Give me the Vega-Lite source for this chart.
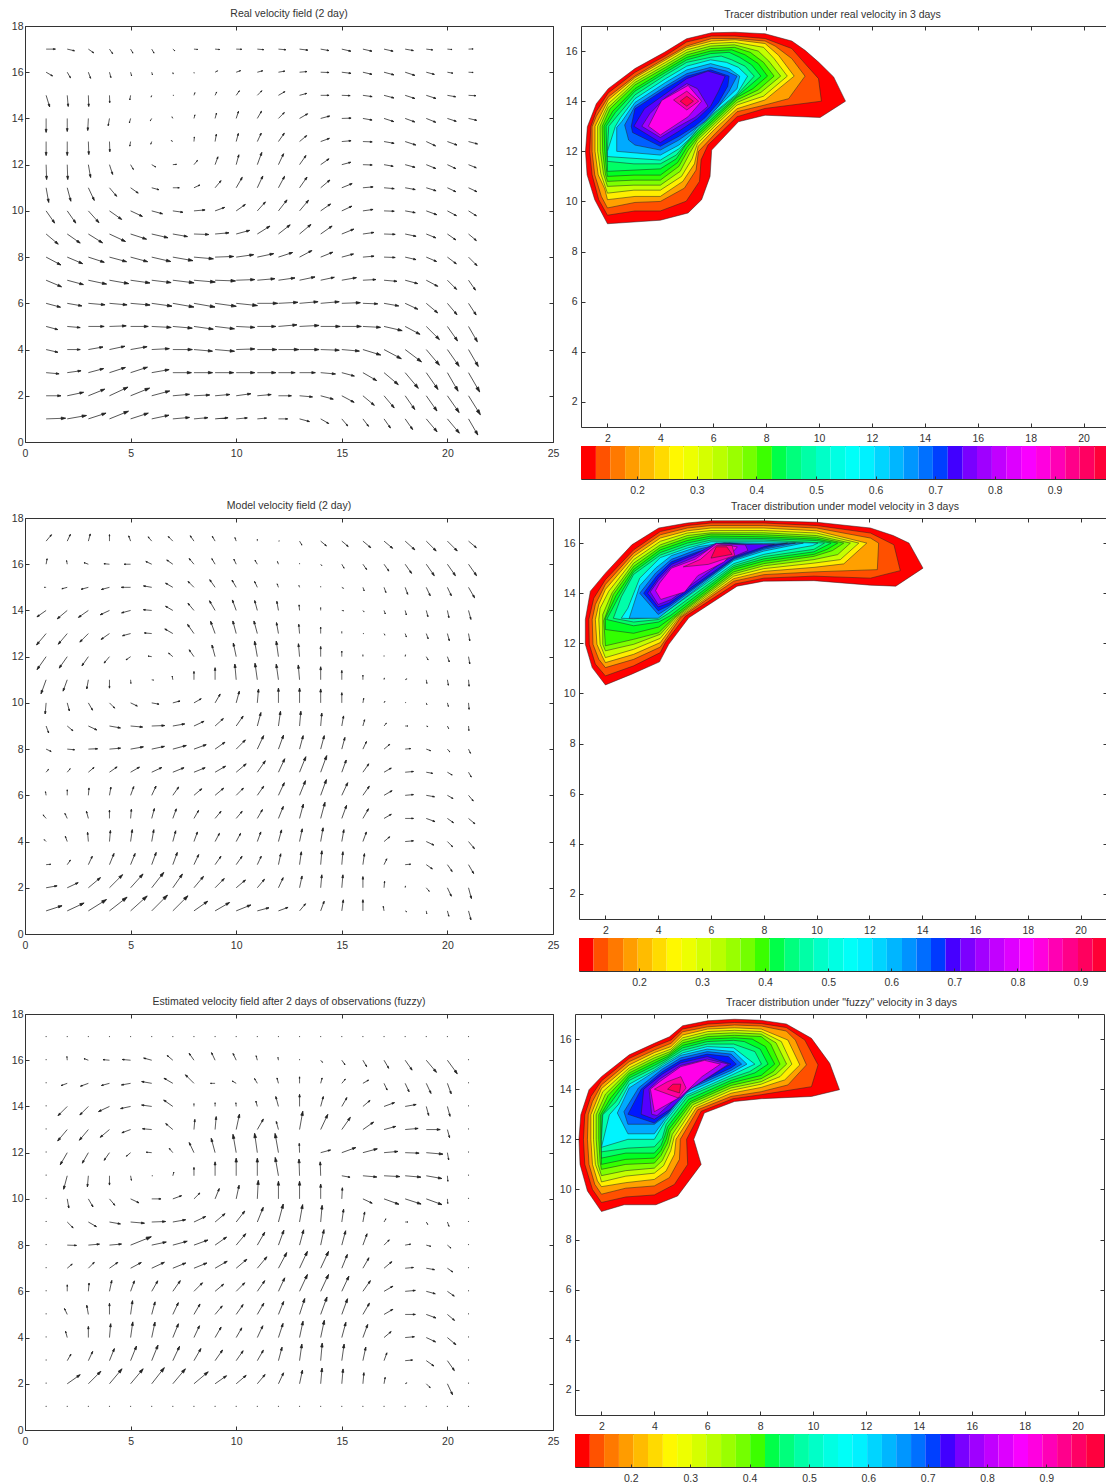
{
"$schema":"https://vega.github.io/schema/vega-lite/v6.json",
"padding":{"left":0,"top":8,"right":0,"bottom":0},
"background":"white",
"config":{"view":{"stroke":"#333","strokeWidth":1},"font":"Liberation Sans","title":{"font":"Liberation Sans","fontSize":10.5,"fontWeight":"normal","color":"#333","offset":5},"axis":{"labelFont":"Liberation Sans","labelFontSize":10.5,"labelColor":"#333","tickColor":"#333","tickSize":-4,"grid":false,"domain":false,"title":null,"labelOverlap":false,"labelFlush":false},"axisX":{"labelPadding":10},"axisY":{"labelPadding":8}},
"datasets":{
"fa":[
{"x":1,"y":17,"a":90,"l":10},{"x":2,"y":17,"a":103,"l":8},{"x":3,"y":17,"a":125,"l":7},{"x":4,"y":17,"a":145,"l":6},{"x":5,"y":17,"a":150,"l":5},{"x":6,"y":17,"a":150,"l":5},{"x":7,"y":17,"a":130,"l":3},{"x":8,"y":17,"a":95,"l":4},{"x":9,"y":17,"a":95,"l":5},{"x":10,"y":17,"a":92,"l":6},{"x":11,"y":17,"a":95,"l":7},{"x":12,"y":17,"a":95,"l":8},{"x":13,"y":17,"a":97,"l":9},{"x":14,"y":17,"a":100,"l":9},{"x":15,"y":17,"a":103,"l":10},{"x":16,"y":17,"a":103,"l":10},{"x":17,"y":17,"a":103,"l":10},{"x":18,"y":17,"a":100,"l":9},{"x":19,"y":17,"a":97,"l":7},{"x":20,"y":17,"a":95,"l":5},{"x":21,"y":17,"a":88,"l":5},
{"x":1,"y":16,"a":120,"l":8},{"x":2,"y":16,"a":150,"l":7},{"x":3,"y":16,"a":160,"l":7},{"x":4,"y":16,"a":165,"l":6},{"x":5,"y":16,"a":165,"l":4},{"x":6,"y":16,"a":165,"l":3},{"x":7,"y":16,"a":170,"l":2},{"x":8,"y":16,"a":170,"l":1},{"x":9,"y":16,"a":60,"l":3},{"x":10,"y":16,"a":70,"l":5},{"x":11,"y":16,"a":75,"l":6},{"x":12,"y":16,"a":80,"l":7},{"x":13,"y":16,"a":85,"l":8},{"x":14,"y":16,"a":92,"l":9},{"x":15,"y":16,"a":97,"l":10},{"x":16,"y":16,"a":103,"l":10},{"x":17,"y":16,"a":105,"l":11},{"x":18,"y":16,"a":108,"l":11},{"x":19,"y":16,"a":105,"l":9},{"x":20,"y":16,"a":100,"l":6},{"x":21,"y":16,"a":93,"l":5},
{"x":1,"y":15,"a":163,"l":13},{"x":2,"y":15,"a":175,"l":12},{"x":3,"y":15,"a":178,"l":12},{"x":4,"y":15,"a":178,"l":8},{"x":5,"y":15,"a":190,"l":5},{"x":6,"y":15,"a":200,"l":2},{"x":7,"y":15,"a":90,"l":1},{"x":8,"y":15,"a":20,"l":3},{"x":9,"y":15,"a":25,"l":4},{"x":10,"y":15,"a":35,"l":6},{"x":11,"y":15,"a":45,"l":7},{"x":12,"y":15,"a":60,"l":8},{"x":13,"y":15,"a":75,"l":8},{"x":14,"y":15,"a":90,"l":9},{"x":15,"y":15,"a":92,"l":9},{"x":16,"y":15,"a":98,"l":10},{"x":17,"y":15,"a":105,"l":11},{"x":18,"y":15,"a":108,"l":11},{"x":19,"y":15,"a":108,"l":11},{"x":20,"y":15,"a":100,"l":9},{"x":21,"y":15,"a":93,"l":8},
{"x":1,"y":14,"a":180,"l":15},{"x":2,"y":14,"a":180,"l":14},{"x":3,"y":14,"a":183,"l":13},{"x":4,"y":14,"a":190,"l":8},{"x":5,"y":14,"a":195,"l":5},{"x":6,"y":14,"a":210,"l":3},{"x":7,"y":14,"a":330,"l":2},{"x":8,"y":14,"a":15,"l":4},{"x":9,"y":14,"a":15,"l":6},{"x":10,"y":14,"a":18,"l":8},{"x":11,"y":14,"a":30,"l":9},{"x":12,"y":14,"a":45,"l":9},{"x":13,"y":14,"a":60,"l":10},{"x":14,"y":14,"a":75,"l":10},{"x":15,"y":14,"a":88,"l":10},{"x":16,"y":14,"a":100,"l":10},{"x":17,"y":14,"a":108,"l":11},{"x":18,"y":14,"a":110,"l":11},{"x":19,"y":14,"a":112,"l":11},{"x":20,"y":14,"a":108,"l":10},{"x":21,"y":14,"a":103,"l":9},
{"x":1,"y":13,"a":180,"l":15},{"x":2,"y":13,"a":180,"l":15},{"x":3,"y":13,"a":178,"l":14},{"x":4,"y":13,"a":178,"l":11},{"x":5,"y":13,"a":190,"l":5},{"x":6,"y":13,"a":200,"l":3},{"x":7,"y":13,"a":300,"l":2},{"x":8,"y":13,"a":5,"l":5},{"x":9,"y":13,"a":10,"l":8},{"x":10,"y":13,"a":15,"l":9},{"x":11,"y":13,"a":25,"l":10},{"x":12,"y":13,"a":35,"l":11},{"x":13,"y":13,"a":50,"l":10},{"x":14,"y":13,"a":70,"l":10},{"x":15,"y":13,"a":85,"l":10},{"x":16,"y":13,"a":92,"l":10},{"x":17,"y":13,"a":100,"l":11},{"x":18,"y":13,"a":108,"l":12},{"x":19,"y":13,"a":115,"l":11},{"x":20,"y":13,"a":110,"l":11},{"x":21,"y":13,"a":105,"l":10},
{"x":1,"y":12,"a":178,"l":16},{"x":2,"y":12,"a":178,"l":16},{"x":3,"y":12,"a":170,"l":14},{"x":4,"y":12,"a":162,"l":11},{"x":5,"y":12,"a":150,"l":6},{"x":6,"y":12,"a":120,"l":5},{"x":7,"y":12,"a":85,"l":4},{"x":8,"y":12,"a":40,"l":6},{"x":9,"y":12,"a":20,"l":9},{"x":10,"y":12,"a":15,"l":11},{"x":11,"y":12,"a":20,"l":14},{"x":12,"y":12,"a":25,"l":13},{"x":13,"y":12,"a":35,"l":12},{"x":14,"y":12,"a":55,"l":11},{"x":15,"y":12,"a":75,"l":10},{"x":16,"y":12,"a":92,"l":10},{"x":17,"y":12,"a":100,"l":10},{"x":18,"y":12,"a":105,"l":11},{"x":19,"y":12,"a":112,"l":11},{"x":20,"y":12,"a":115,"l":10},{"x":21,"y":12,"a":112,"l":9},
{"x":1,"y":11,"a":170,"l":16},{"x":2,"y":11,"a":165,"l":15},{"x":3,"y":11,"a":155,"l":15},{"x":4,"y":11,"a":140,"l":12},{"x":5,"y":11,"a":125,"l":10},{"x":6,"y":11,"a":105,"l":8},{"x":7,"y":11,"a":90,"l":7},{"x":8,"y":11,"a":65,"l":7},{"x":9,"y":11,"a":40,"l":10},{"x":10,"y":11,"a":30,"l":13},{"x":11,"y":11,"a":25,"l":14},{"x":12,"y":11,"a":28,"l":14},{"x":13,"y":11,"a":35,"l":14},{"x":14,"y":11,"a":50,"l":13},{"x":15,"y":11,"a":68,"l":12},{"x":16,"y":11,"a":85,"l":11},{"x":17,"y":11,"a":95,"l":11},{"x":18,"y":11,"a":100,"l":11},{"x":19,"y":11,"a":107,"l":11},{"x":20,"y":11,"a":115,"l":10},{"x":21,"y":11,"a":115,"l":10},
{"x":1,"y":10,"a":145,"l":16},{"x":2,"y":10,"a":145,"l":16},{"x":3,"y":10,"a":138,"l":17},{"x":4,"y":10,"a":125,"l":16},{"x":5,"y":10,"a":115,"l":14},{"x":6,"y":10,"a":105,"l":12},{"x":7,"y":10,"a":98,"l":11},{"x":8,"y":10,"a":85,"l":12},{"x":9,"y":10,"a":70,"l":11},{"x":10,"y":10,"a":55,"l":12},{"x":11,"y":10,"a":42,"l":13},{"x":12,"y":10,"a":38,"l":15},{"x":13,"y":10,"a":40,"l":15},{"x":14,"y":10,"a":55,"l":13},{"x":15,"y":10,"a":65,"l":12},{"x":16,"y":10,"a":82,"l":11},{"x":17,"y":10,"a":92,"l":11},{"x":18,"y":10,"a":100,"l":11},{"x":19,"y":10,"a":110,"l":12},{"x":20,"y":10,"a":118,"l":11},{"x":21,"y":10,"a":122,"l":10},
{"x":1,"y":9,"a":130,"l":17},{"x":2,"y":9,"a":125,"l":17},{"x":3,"y":9,"a":122,"l":18},{"x":4,"y":9,"a":115,"l":19},{"x":5,"y":9,"a":108,"l":18},{"x":6,"y":9,"a":103,"l":18},{"x":7,"y":9,"a":100,"l":16},{"x":8,"y":9,"a":92,"l":16},{"x":9,"y":9,"a":85,"l":15},{"x":10,"y":9,"a":75,"l":15},{"x":11,"y":9,"a":58,"l":16},{"x":12,"y":9,"a":52,"l":16},{"x":13,"y":9,"a":50,"l":16},{"x":14,"y":9,"a":55,"l":15},{"x":15,"y":9,"a":68,"l":14},{"x":16,"y":9,"a":82,"l":12},{"x":17,"y":9,"a":92,"l":12},{"x":18,"y":9,"a":102,"l":12},{"x":19,"y":9,"a":112,"l":11},{"x":20,"y":9,"a":125,"l":11},{"x":21,"y":9,"a":130,"l":11},
{"x":1,"y":8,"a":118,"l":18},{"x":2,"y":8,"a":113,"l":18},{"x":3,"y":8,"a":108,"l":18},{"x":4,"y":8,"a":105,"l":19},{"x":5,"y":8,"a":105,"l":19},{"x":6,"y":8,"a":103,"l":21},{"x":7,"y":8,"a":100,"l":22},{"x":8,"y":8,"a":95,"l":21},{"x":9,"y":8,"a":88,"l":20},{"x":10,"y":8,"a":82,"l":19},{"x":11,"y":8,"a":78,"l":18},{"x":12,"y":8,"a":72,"l":16},{"x":13,"y":8,"a":62,"l":15},{"x":14,"y":8,"a":68,"l":14},{"x":15,"y":8,"a":75,"l":13},{"x":16,"y":8,"a":85,"l":12},{"x":17,"y":8,"a":92,"l":12},{"x":18,"y":8,"a":103,"l":12},{"x":19,"y":8,"a":113,"l":12},{"x":20,"y":8,"a":127,"l":12},{"x":21,"y":8,"a":135,"l":13},
{"x":1,"y":7,"a":113,"l":18},{"x":2,"y":7,"a":105,"l":18},{"x":3,"y":7,"a":102,"l":20},{"x":4,"y":7,"a":100,"l":21},{"x":5,"y":7,"a":98,"l":21},{"x":6,"y":7,"a":97,"l":21},{"x":7,"y":7,"a":97,"l":23},{"x":8,"y":7,"a":95,"l":23},{"x":9,"y":7,"a":92,"l":22},{"x":10,"y":7,"a":88,"l":20},{"x":11,"y":7,"a":85,"l":19},{"x":12,"y":7,"a":82,"l":18},{"x":13,"y":7,"a":78,"l":17},{"x":14,"y":7,"a":78,"l":15},{"x":15,"y":7,"a":80,"l":16},{"x":16,"y":7,"a":87,"l":14},{"x":17,"y":7,"a":95,"l":14},{"x":18,"y":7,"a":105,"l":14},{"x":19,"y":7,"a":118,"l":14},{"x":20,"y":7,"a":135,"l":14},{"x":21,"y":7,"a":145,"l":13},
{"x":1,"y":6,"a":105,"l":16},{"x":2,"y":6,"a":100,"l":16},{"x":3,"y":6,"a":95,"l":18},{"x":4,"y":6,"a":95,"l":19},{"x":5,"y":6,"a":95,"l":21},{"x":6,"y":6,"a":98,"l":22},{"x":7,"y":6,"a":100,"l":23},{"x":8,"y":6,"a":100,"l":23},{"x":9,"y":6,"a":98,"l":23},{"x":10,"y":6,"a":96,"l":23},{"x":11,"y":6,"a":90,"l":22},{"x":12,"y":6,"a":87,"l":21},{"x":13,"y":6,"a":85,"l":20},{"x":14,"y":6,"a":85,"l":20},{"x":15,"y":6,"a":88,"l":20},{"x":16,"y":6,"a":92,"l":16},{"x":17,"y":6,"a":100,"l":16},{"x":18,"y":6,"a":115,"l":15},{"x":19,"y":6,"a":130,"l":16},{"x":20,"y":6,"a":140,"l":16},{"x":21,"y":6,"a":147,"l":15},
{"x":1,"y":5,"a":105,"l":13},{"x":2,"y":5,"a":95,"l":14},{"x":3,"y":5,"a":90,"l":17},{"x":4,"y":5,"a":88,"l":18},{"x":5,"y":5,"a":90,"l":19},{"x":6,"y":5,"a":93,"l":21},{"x":7,"y":5,"a":95,"l":21},{"x":8,"y":5,"a":98,"l":21},{"x":9,"y":5,"a":97,"l":21},{"x":10,"y":5,"a":93,"l":20},{"x":11,"y":5,"a":90,"l":20},{"x":12,"y":5,"a":85,"l":20},{"x":13,"y":5,"a":87,"l":21},{"x":14,"y":5,"a":90,"l":21},{"x":15,"y":5,"a":90,"l":21},{"x":16,"y":5,"a":93,"l":19},{"x":17,"y":5,"a":103,"l":20},{"x":18,"y":5,"a":118,"l":18},{"x":19,"y":5,"a":135,"l":20},{"x":20,"y":5,"a":145,"l":19},{"x":21,"y":5,"a":150,"l":19},
{"x":1,"y":4,"a":103,"l":13},{"x":2,"y":4,"a":90,"l":14},{"x":3,"y":4,"a":80,"l":16},{"x":4,"y":4,"a":78,"l":17},{"x":5,"y":4,"a":80,"l":18},{"x":6,"y":4,"a":87,"l":19},{"x":7,"y":4,"a":90,"l":21},{"x":8,"y":4,"a":95,"l":20},{"x":9,"y":4,"a":95,"l":21},{"x":10,"y":4,"a":88,"l":20},{"x":11,"y":4,"a":90,"l":21},{"x":12,"y":4,"a":90,"l":22},{"x":13,"y":4,"a":90,"l":21},{"x":14,"y":4,"a":92,"l":20},{"x":15,"y":4,"a":95,"l":19},{"x":16,"y":4,"a":107,"l":20},{"x":17,"y":4,"a":118,"l":21},{"x":18,"y":4,"a":127,"l":22},{"x":19,"y":4,"a":140,"l":22},{"x":20,"y":4,"a":145,"l":22},{"x":21,"y":4,"a":150,"l":21},
{"x":1,"y":3,"a":95,"l":14},{"x":2,"y":3,"a":82,"l":15},{"x":3,"y":3,"a":75,"l":17},{"x":4,"y":3,"a":72,"l":18},{"x":5,"y":3,"a":72,"l":19},{"x":6,"y":3,"a":80,"l":19},{"x":7,"y":3,"a":90,"l":20},{"x":8,"y":3,"a":90,"l":20},{"x":9,"y":3,"a":90,"l":20},{"x":10,"y":3,"a":90,"l":20},{"x":11,"y":3,"a":90,"l":20},{"x":12,"y":3,"a":90,"l":18},{"x":13,"y":3,"a":90,"l":17},{"x":14,"y":3,"a":95,"l":16},{"x":15,"y":3,"a":105,"l":14},{"x":16,"y":3,"a":120,"l":17},{"x":17,"y":3,"a":130,"l":20},{"x":18,"y":3,"a":140,"l":22},{"x":19,"y":3,"a":145,"l":22},{"x":20,"y":3,"a":150,"l":23},{"x":21,"y":3,"a":150,"l":24},
{"x":1,"y":2,"a":90,"l":16},{"x":2,"y":2,"a":78,"l":18},{"x":3,"y":2,"a":68,"l":19},{"x":4,"y":2,"a":65,"l":22},{"x":5,"y":2,"a":68,"l":22},{"x":6,"y":2,"a":75,"l":20},{"x":7,"y":2,"a":85,"l":18},{"x":8,"y":2,"a":87,"l":17},{"x":9,"y":2,"a":85,"l":16},{"x":10,"y":2,"a":82,"l":16},{"x":11,"y":2,"a":85,"l":15},{"x":12,"y":2,"a":90,"l":14},{"x":13,"y":2,"a":95,"l":14},{"x":14,"y":2,"a":105,"l":14},{"x":15,"y":2,"a":118,"l":15},{"x":16,"y":2,"a":130,"l":16},{"x":17,"y":2,"a":140,"l":17},{"x":18,"y":2,"a":145,"l":18},{"x":19,"y":2,"a":145,"l":20},{"x":20,"y":2,"a":145,"l":22},{"x":21,"y":2,"a":148,"l":24},
{"x":1,"y":1,"a":88,"l":21},{"x":2,"y":1,"a":80,"l":21},{"x":3,"y":1,"a":72,"l":20},{"x":4,"y":1,"a":68,"l":22},{"x":5,"y":1,"a":72,"l":20},{"x":6,"y":1,"a":78,"l":19},{"x":7,"y":1,"a":85,"l":18},{"x":8,"y":1,"a":85,"l":15},{"x":9,"y":1,"a":85,"l":14},{"x":10,"y":1,"a":85,"l":12},{"x":11,"y":1,"a":85,"l":10},{"x":12,"y":1,"a":90,"l":10},{"x":13,"y":1,"a":105,"l":11},{"x":14,"y":1,"a":120,"l":10},{"x":15,"y":1,"a":140,"l":10},{"x":16,"y":1,"a":143,"l":10},{"x":17,"y":1,"a":145,"l":12},{"x":18,"y":1,"a":145,"l":14},{"x":19,"y":1,"a":140,"l":18},{"x":20,"y":1,"a":140,"l":20},{"x":21,"y":1,"a":150,"l":20}
],
"fb":[
{"x":1,"y":17,"a":40,"l":9},{"x":2,"y":17,"a":25,"l":8},{"x":3,"y":17,"a":15,"l":8},{"x":4,"y":17,"a":0,"l":7},{"x":5,"y":17,"a":340,"l":6},{"x":6,"y":17,"a":320,"l":6},{"x":7,"y":17,"a":315,"l":7},{"x":8,"y":17,"a":325,"l":7},{"x":9,"y":17,"a":330,"l":6},{"x":10,"y":17,"a":340,"l":4},{"x":11,"y":17,"a":0,"l":2},{"x":12,"y":17,"a":80,"l":1},{"x":13,"y":17,"a":150,"l":5},{"x":14,"y":17,"a":130,"l":8},{"x":15,"y":17,"a":130,"l":9},{"x":16,"y":17,"a":130,"l":11},{"x":17,"y":17,"a":130,"l":12},{"x":18,"y":17,"a":132,"l":14},{"x":19,"y":17,"a":135,"l":15},{"x":20,"y":17,"a":135,"l":15},{"x":21,"y":17,"a":130,"l":11},
{"x":1,"y":16,"a":10,"l":6},{"x":2,"y":16,"a":350,"l":4},{"x":3,"y":16,"a":290,"l":5},{"x":4,"y":16,"a":275,"l":6},{"x":5,"y":16,"a":270,"l":7},{"x":6,"y":16,"a":295,"l":7},{"x":7,"y":16,"a":305,"l":8},{"x":8,"y":16,"a":320,"l":8},{"x":9,"y":16,"a":330,"l":7},{"x":10,"y":16,"a":335,"l":6},{"x":11,"y":16,"a":330,"l":5},{"x":12,"y":16,"a":340,"l":3},{"x":13,"y":16,"a":0,"l":1},{"x":14,"y":16,"a":140,"l":2},{"x":15,"y":16,"a":150,"l":5},{"x":16,"y":16,"a":145,"l":7},{"x":17,"y":16,"a":145,"l":9},{"x":18,"y":16,"a":145,"l":12},{"x":19,"y":16,"a":145,"l":15},{"x":20,"y":16,"a":145,"l":15},{"x":21,"y":16,"a":145,"l":15},
{"x":1,"y":15,"a":270,"l":2},{"x":2,"y":15,"a":255,"l":6},{"x":3,"y":15,"a":255,"l":8},{"x":4,"y":15,"a":255,"l":9},{"x":5,"y":15,"a":270,"l":10},{"x":6,"y":15,"a":280,"l":9},{"x":7,"y":15,"a":300,"l":9},{"x":8,"y":15,"a":315,"l":9},{"x":9,"y":15,"a":325,"l":10},{"x":10,"y":15,"a":330,"l":9},{"x":11,"y":15,"a":335,"l":7},{"x":12,"y":15,"a":340,"l":4},{"x":13,"y":15,"a":340,"l":2},{"x":14,"y":15,"a":0,"l":1},{"x":15,"y":15,"a":120,"l":2},{"x":16,"y":15,"a":160,"l":4},{"x":17,"y":15,"a":160,"l":6},{"x":18,"y":15,"a":160,"l":8},{"x":19,"y":15,"a":155,"l":10},{"x":20,"y":15,"a":155,"l":10},{"x":21,"y":15,"a":150,"l":13},
{"x":1,"y":14,"a":235,"l":12},{"x":2,"y":14,"a":230,"l":14},{"x":3,"y":14,"a":235,"l":13},{"x":4,"y":14,"a":245,"l":11},{"x":5,"y":14,"a":255,"l":10},{"x":6,"y":14,"a":275,"l":9},{"x":7,"y":14,"a":300,"l":9},{"x":8,"y":14,"a":320,"l":10},{"x":9,"y":14,"a":330,"l":12},{"x":10,"y":14,"a":340,"l":12},{"x":11,"y":14,"a":345,"l":11},{"x":12,"y":14,"a":350,"l":10},{"x":13,"y":14,"a":355,"l":6},{"x":14,"y":14,"a":0,"l":3},{"x":15,"y":14,"a":100,"l":2},{"x":16,"y":14,"a":140,"l":2},{"x":17,"y":14,"a":160,"l":4},{"x":18,"y":14,"a":165,"l":5},{"x":19,"y":14,"a":165,"l":7},{"x":20,"y":14,"a":168,"l":8},{"x":21,"y":14,"a":165,"l":10},
{"x":1,"y":13,"a":220,"l":16},{"x":2,"y":13,"a":220,"l":15},{"x":3,"y":13,"a":225,"l":13},{"x":4,"y":13,"a":235,"l":11},{"x":5,"y":13,"a":255,"l":9},{"x":6,"y":13,"a":275,"l":8},{"x":7,"y":13,"a":300,"l":10},{"x":8,"y":13,"a":325,"l":12},{"x":9,"y":13,"a":340,"l":14},{"x":10,"y":13,"a":345,"l":14},{"x":11,"y":13,"a":345,"l":14},{"x":12,"y":13,"a":350,"l":12},{"x":13,"y":13,"a":355,"l":10},{"x":14,"y":13,"a":0,"l":7},{"x":15,"y":13,"a":0,"l":2},{"x":16,"y":13,"a":90,"l":1},{"x":17,"y":13,"a":150,"l":2},{"x":18,"y":13,"a":160,"l":4},{"x":19,"y":13,"a":160,"l":6},{"x":20,"y":13,"a":165,"l":8},{"x":21,"y":13,"a":170,"l":8},
{"x":1,"y":12,"a":215,"l":17},{"x":2,"y":12,"a":215,"l":15},{"x":3,"y":12,"a":215,"l":12},{"x":4,"y":12,"a":220,"l":9},{"x":5,"y":12,"a":235,"l":6},{"x":6,"y":12,"a":280,"l":4},{"x":7,"y":12,"a":310,"l":6},{"x":8,"y":12,"a":325,"l":9},{"x":9,"y":12,"a":345,"l":13},{"x":10,"y":12,"a":348,"l":15},{"x":11,"y":12,"a":350,"l":17},{"x":12,"y":12,"a":352,"l":17},{"x":13,"y":12,"a":355,"l":14},{"x":14,"y":12,"a":0,"l":11},{"x":15,"y":12,"a":0,"l":6},{"x":16,"y":12,"a":0,"l":2},{"x":17,"y":12,"a":0,"l":1},{"x":18,"y":12,"a":10,"l":2},{"x":19,"y":12,"a":150,"l":4},{"x":20,"y":12,"a":160,"l":6},{"x":21,"y":12,"a":170,"l":8},
{"x":1,"y":11,"a":200,"l":16},{"x":2,"y":11,"a":200,"l":13},{"x":3,"y":11,"a":190,"l":10},{"x":4,"y":11,"a":180,"l":9},{"x":5,"y":11,"a":175,"l":4},{"x":6,"y":11,"a":100,"l":2},{"x":7,"y":11,"a":350,"l":4},{"x":8,"y":11,"a":0,"l":9},{"x":9,"y":11,"a":0,"l":13},{"x":10,"y":11,"a":355,"l":17},{"x":11,"y":11,"a":352,"l":18},{"x":12,"y":11,"a":352,"l":17},{"x":13,"y":11,"a":355,"l":16},{"x":14,"y":11,"a":0,"l":14},{"x":15,"y":11,"a":0,"l":10},{"x":16,"y":11,"a":0,"l":5},{"x":17,"y":11,"a":10,"l":2},{"x":18,"y":11,"a":60,"l":2},{"x":19,"y":11,"a":170,"l":4},{"x":20,"y":11,"a":170,"l":6},{"x":21,"y":11,"a":175,"l":7},
{"x":1,"y":10,"a":185,"l":12},{"x":2,"y":10,"a":165,"l":9},{"x":3,"y":10,"a":150,"l":9},{"x":4,"y":10,"a":135,"l":8},{"x":5,"y":10,"a":115,"l":8},{"x":6,"y":10,"a":100,"l":8},{"x":7,"y":10,"a":75,"l":8},{"x":8,"y":10,"a":60,"l":9},{"x":9,"y":10,"a":30,"l":11},{"x":10,"y":10,"a":15,"l":13},{"x":11,"y":10,"a":5,"l":15},{"x":12,"y":10,"a":0,"l":16},{"x":13,"y":10,"a":0,"l":16},{"x":14,"y":10,"a":0,"l":15},{"x":15,"y":10,"a":0,"l":11},{"x":16,"y":10,"a":10,"l":5},{"x":17,"y":10,"a":30,"l":2},{"x":18,"y":10,"a":50,"l":1},{"x":19,"y":10,"a":160,"l":2},{"x":20,"y":10,"a":165,"l":4},{"x":21,"y":10,"a":175,"l":7},
{"x":1,"y":9,"a":160,"l":8},{"x":2,"y":9,"a":130,"l":8},{"x":3,"y":9,"a":115,"l":10},{"x":4,"y":9,"a":100,"l":12},{"x":5,"y":9,"a":95,"l":13},{"x":6,"y":9,"a":88,"l":14},{"x":7,"y":9,"a":80,"l":13},{"x":8,"y":9,"a":65,"l":12},{"x":9,"y":9,"a":48,"l":12},{"x":10,"y":9,"a":35,"l":13},{"x":11,"y":9,"a":15,"l":15},{"x":12,"y":9,"a":8,"l":16},{"x":13,"y":9,"a":5,"l":16},{"x":14,"y":9,"a":5,"l":14},{"x":15,"y":9,"a":10,"l":11},{"x":16,"y":9,"a":15,"l":7},{"x":17,"y":9,"a":40,"l":4},{"x":18,"y":9,"a":90,"l":3},{"x":19,"y":9,"a":110,"l":2},{"x":20,"y":9,"a":155,"l":3},{"x":21,"y":9,"a":175,"l":5},
{"x":1,"y":8,"a":115,"l":6},{"x":2,"y":8,"a":95,"l":8},{"x":3,"y":8,"a":88,"l":10},{"x":4,"y":8,"a":85,"l":12},{"x":5,"y":8,"a":80,"l":14},{"x":6,"y":8,"a":78,"l":14},{"x":7,"y":8,"a":75,"l":15},{"x":8,"y":8,"a":70,"l":14},{"x":9,"y":8,"a":55,"l":13},{"x":10,"y":8,"a":45,"l":14},{"x":11,"y":8,"a":25,"l":16},{"x":12,"y":8,"a":20,"l":16},{"x":13,"y":8,"a":15,"l":15},{"x":14,"y":8,"a":15,"l":15},{"x":15,"y":8,"a":15,"l":13},{"x":16,"y":8,"a":25,"l":9},{"x":17,"y":8,"a":50,"l":8},{"x":18,"y":8,"a":85,"l":6},{"x":19,"y":8,"a":110,"l":5},{"x":20,"y":8,"a":140,"l":4},{"x":21,"y":8,"a":155,"l":5},
{"x":1,"y":7,"a":40,"l":4},{"x":2,"y":7,"a":40,"l":5},{"x":3,"y":7,"a":50,"l":8},{"x":4,"y":7,"a":55,"l":10},{"x":5,"y":7,"a":60,"l":11},{"x":6,"y":7,"a":65,"l":12},{"x":7,"y":7,"a":68,"l":13},{"x":8,"y":7,"a":68,"l":13},{"x":9,"y":7,"a":60,"l":13},{"x":10,"y":7,"a":50,"l":14},{"x":11,"y":7,"a":35,"l":15},{"x":12,"y":7,"a":25,"l":16},{"x":13,"y":7,"a":22,"l":18},{"x":14,"y":7,"a":20,"l":19},{"x":15,"y":7,"a":20,"l":14},{"x":16,"y":7,"a":35,"l":11},{"x":17,"y":7,"a":60,"l":9},{"x":18,"y":7,"a":85,"l":9},{"x":19,"y":7,"a":100,"l":7},{"x":20,"y":7,"a":120,"l":6},{"x":21,"y":7,"a":150,"l":6},
{"x":1,"y":6,"a":350,"l":4},{"x":2,"y":6,"a":0,"l":6},{"x":3,"y":6,"a":5,"l":8},{"x":4,"y":6,"a":10,"l":9},{"x":5,"y":6,"a":20,"l":10},{"x":6,"y":6,"a":25,"l":11},{"x":7,"y":6,"a":35,"l":11},{"x":8,"y":6,"a":50,"l":11},{"x":9,"y":6,"a":50,"l":12},{"x":10,"y":6,"a":45,"l":11},{"x":11,"y":6,"a":35,"l":12},{"x":12,"y":6,"a":25,"l":15},{"x":13,"y":6,"a":22,"l":17},{"x":14,"y":6,"a":20,"l":18},{"x":15,"y":6,"a":25,"l":15},{"x":16,"y":6,"a":35,"l":12},{"x":17,"y":6,"a":60,"l":10},{"x":18,"y":6,"a":85,"l":9},{"x":19,"y":6,"a":100,"l":9},{"x":20,"y":6,"a":120,"l":7},{"x":21,"y":6,"a":140,"l":8},
{"x":1,"y":5,"a":320,"l":5},{"x":2,"y":5,"a":335,"l":6},{"x":3,"y":5,"a":345,"l":8},{"x":4,"y":5,"a":0,"l":9},{"x":5,"y":5,"a":5,"l":10},{"x":6,"y":5,"a":15,"l":11},{"x":7,"y":5,"a":20,"l":11},{"x":8,"y":5,"a":30,"l":10},{"x":9,"y":5,"a":40,"l":10},{"x":10,"y":5,"a":40,"l":10},{"x":11,"y":5,"a":30,"l":11},{"x":12,"y":5,"a":22,"l":14},{"x":13,"y":5,"a":15,"l":16},{"x":14,"y":5,"a":15,"l":18},{"x":15,"y":5,"a":20,"l":15},{"x":16,"y":5,"a":30,"l":12},{"x":17,"y":5,"a":60,"l":9},{"x":18,"y":5,"a":90,"l":9},{"x":19,"y":5,"a":110,"l":10},{"x":20,"y":5,"a":125,"l":8},{"x":21,"y":5,"a":130,"l":9},
{"x":1,"y":4,"a":315,"l":3},{"x":2,"y":4,"a":340,"l":6},{"x":3,"y":4,"a":355,"l":10},{"x":4,"y":4,"a":5,"l":12},{"x":5,"y":4,"a":8,"l":13},{"x":6,"y":4,"a":10,"l":13},{"x":7,"y":4,"a":15,"l":12},{"x":8,"y":4,"a":20,"l":11},{"x":9,"y":4,"a":28,"l":10},{"x":10,"y":4,"a":28,"l":10},{"x":11,"y":4,"a":20,"l":11},{"x":12,"y":4,"a":15,"l":13},{"x":13,"y":4,"a":12,"l":14},{"x":14,"y":4,"a":10,"l":15},{"x":15,"y":4,"a":10,"l":13},{"x":16,"y":4,"a":20,"l":11},{"x":17,"y":4,"a":50,"l":8},{"x":18,"y":4,"a":85,"l":9},{"x":19,"y":4,"a":115,"l":9},{"x":20,"y":4,"a":135,"l":8},{"x":21,"y":4,"a":140,"l":10},
{"x":1,"y":3,"a":85,"l":5},{"x":2,"y":3,"a":35,"l":6},{"x":3,"y":3,"a":25,"l":10},{"x":4,"y":3,"a":22,"l":13},{"x":5,"y":3,"a":22,"l":13},{"x":6,"y":3,"a":20,"l":14},{"x":7,"y":3,"a":20,"l":14},{"x":8,"y":3,"a":25,"l":12},{"x":9,"y":3,"a":35,"l":11},{"x":10,"y":3,"a":35,"l":11},{"x":11,"y":3,"a":25,"l":10},{"x":12,"y":3,"a":12,"l":12},{"x":13,"y":3,"a":8,"l":14},{"x":14,"y":3,"a":5,"l":15},{"x":15,"y":3,"a":5,"l":14},{"x":16,"y":3,"a":8,"l":12},{"x":17,"y":3,"a":25,"l":7},{"x":18,"y":3,"a":85,"l":6},{"x":19,"y":3,"a":125,"l":8},{"x":20,"y":3,"a":145,"l":9},{"x":21,"y":3,"a":150,"l":11},
{"x":1,"y":2,"a":80,"l":12},{"x":2,"y":2,"a":65,"l":13},{"x":3,"y":2,"a":50,"l":17},{"x":4,"y":2,"a":45,"l":20},{"x":5,"y":2,"a":42,"l":20},{"x":6,"y":2,"a":38,"l":21},{"x":7,"y":2,"a":35,"l":18},{"x":8,"y":2,"a":40,"l":16},{"x":9,"y":2,"a":45,"l":14},{"x":10,"y":2,"a":50,"l":13},{"x":11,"y":2,"a":40,"l":12},{"x":12,"y":2,"a":25,"l":12},{"x":13,"y":2,"a":12,"l":13},{"x":14,"y":2,"a":5,"l":14},{"x":15,"y":2,"a":5,"l":14},{"x":16,"y":2,"a":0,"l":12},{"x":17,"y":2,"a":5,"l":7},{"x":18,"y":2,"a":10,"l":2},{"x":19,"y":2,"a":140,"l":5},{"x":20,"y":2,"a":155,"l":10},{"x":21,"y":2,"a":165,"l":12},
{"x":1,"y":1,"a":72,"l":18},{"x":2,"y":1,"a":65,"l":20},{"x":3,"y":1,"a":58,"l":23},{"x":4,"y":1,"a":52,"l":24},{"x":5,"y":1,"a":48,"l":24},{"x":6,"y":1,"a":45,"l":24},{"x":7,"y":1,"a":45,"l":23},{"x":8,"y":1,"a":55,"l":18},{"x":9,"y":1,"a":60,"l":18},{"x":10,"y":1,"a":68,"l":17},{"x":11,"y":1,"a":75,"l":13},{"x":12,"y":1,"a":70,"l":11},{"x":13,"y":1,"a":40,"l":10},{"x":14,"y":1,"a":20,"l":11},{"x":15,"y":1,"a":8,"l":12},{"x":16,"y":1,"a":0,"l":12},{"x":17,"y":1,"a":350,"l":5},{"x":18,"y":1,"a":120,"l":2},{"x":19,"y":1,"a":170,"l":3},{"x":20,"y":1,"a":165,"l":6},{"x":21,"y":1,"a":165,"l":10}
],
"fc":[
{"x":2,"y":16,"a":355,"l":4},{"x":3,"y":16,"a":290,"l":5},{"x":4,"y":16,"a":275,"l":7},{"x":5,"y":16,"a":275,"l":9},{"x":6,"y":16,"a":285,"l":9},{"x":7,"y":16,"a":310,"l":8},{"x":8,"y":16,"a":325,"l":9},{"x":9,"y":16,"a":335,"l":9},{"x":10,"y":16,"a":335,"l":8},{"x":11,"y":16,"a":345,"l":5},{"x":12,"y":16,"a":350,"l":3},{"x":13,"y":16,"a":0,"l":1},{"x":14,"y":16,"a":140,"l":3},{"x":15,"y":16,"a":145,"l":6},{"x":16,"y":16,"a":150,"l":8},{"x":17,"y":16,"a":150,"l":10},{"x":18,"y":16,"a":145,"l":13},{"x":19,"y":16,"a":140,"l":17},{"x":20,"y":16,"a":144,"l":18},
{"x":2,"y":15,"a":250,"l":7},{"x":3,"y":15,"a":250,"l":9},{"x":4,"y":15,"a":255,"l":9},{"x":5,"y":15,"a":260,"l":10},{"x":6,"y":15,"a":280,"l":11},{"x":7,"y":15,"a":300,"l":11},{"x":8,"y":15,"a":315,"l":13},{"x":9,"y":15,"a":270,"l":5},{"x":10,"y":15,"a":300,"l":5},{"x":11,"y":15,"a":330,"l":6},{"x":12,"y":15,"a":345,"l":6},{"x":13,"y":15,"a":0,"l":7},{"x":14,"y":15,"a":15,"l":6},{"x":15,"y":15,"a":40,"l":6},{"x":16,"y":15,"a":60,"l":7},{"x":17,"y":15,"a":155,"l":8},{"x":18,"y":15,"a":155,"l":10},{"x":19,"y":15,"a":155,"l":12},{"x":20,"y":15,"a":160,"l":12},
{"x":2,"y":14,"a":225,"l":14},{"x":3,"y":14,"a":225,"l":13},{"x":4,"y":14,"a":245,"l":13},{"x":5,"y":14,"a":258,"l":11},{"x":6,"y":14,"a":278,"l":11},{"x":7,"y":14,"a":305,"l":12},{"x":8,"y":14,"a":0,"l":3},{"x":9,"y":14,"a":0,"l":4},{"x":10,"y":14,"a":355,"l":4},{"x":11,"y":14,"a":345,"l":6},{"x":12,"y":14,"a":345,"l":11},{"x":13,"y":14,"a":0,"l":13},{"x":14,"y":14,"a":15,"l":11},{"x":15,"y":14,"a":30,"l":11},{"x":16,"y":14,"a":50,"l":10},{"x":17,"y":14,"a":70,"l":12},{"x":18,"y":14,"a":80,"l":12},{"x":19,"y":14,"a":165,"l":10},{"x":20,"y":14,"a":165,"l":11},
{"x":2,"y":13,"a":220,"l":16},{"x":3,"y":13,"a":220,"l":15},{"x":4,"y":13,"a":230,"l":13},{"x":5,"y":13,"a":250,"l":10},{"x":6,"y":13,"a":275,"l":10},{"x":7,"y":13,"a":310,"l":10},{"x":8,"y":13,"a":5,"l":11},{"x":9,"y":13,"a":5,"l":14},{"x":10,"y":13,"a":12,"l":17},{"x":11,"y":13,"a":30,"l":13},{"x":12,"y":13,"a":345,"l":9},{"x":13,"y":13,"a":10,"l":20},{"x":14,"y":13,"a":25,"l":18},{"x":15,"y":13,"a":35,"l":16},{"x":16,"y":13,"a":55,"l":14},{"x":17,"y":13,"a":75,"l":13},{"x":18,"y":13,"a":85,"l":14},{"x":19,"y":13,"a":90,"l":15},{"x":20,"y":13,"a":165,"l":9},
{"x":2,"y":12,"a":210,"l":15},{"x":3,"y":12,"a":210,"l":13},{"x":4,"y":12,"a":215,"l":10},{"x":5,"y":12,"a":230,"l":6},{"x":6,"y":12,"a":275,"l":6},{"x":7,"y":12,"a":320,"l":6},{"x":8,"y":12,"a":335,"l":12},{"x":9,"y":12,"a":345,"l":16},{"x":10,"y":12,"a":350,"l":20},{"x":11,"y":12,"a":352,"l":21},{"x":12,"y":12,"a":350,"l":21},{"x":13,"y":12,"a":358,"l":10},{"x":14,"y":12,"a":75,"l":11},{"x":15,"y":12,"a":70,"l":16},{"x":16,"y":12,"a":75,"l":16},{"x":17,"y":12,"a":85,"l":15},{"x":18,"y":12,"a":92,"l":15},{"x":19,"y":12,"a":95,"l":18},{"x":20,"y":12,"a":170,"l":8},
{"x":2,"y":11,"a":195,"l":15},{"x":3,"y":11,"a":185,"l":12},{"x":4,"y":11,"a":180,"l":10},{"x":5,"y":11,"a":170,"l":5},{"x":6,"y":11,"a":90,"l":1},{"x":7,"y":11,"a":15,"l":4},{"x":8,"y":11,"a":0,"l":9},{"x":9,"y":11,"a":0,"l":15},{"x":10,"y":11,"a":0,"l":19},{"x":11,"y":11,"a":0,"l":19},{"x":12,"y":11,"a":350,"l":20},{"x":13,"y":11,"a":358,"l":18},{"x":14,"y":11,"a":358,"l":15},{"x":15,"y":11,"a":100,"l":9},{"x":16,"y":11,"a":95,"l":15},{"x":17,"y":11,"a":93,"l":17},{"x":18,"y":11,"a":95,"l":17},{"x":19,"y":11,"a":100,"l":17},{"x":20,"y":11,"a":175,"l":6},
{"x":2,"y":10,"a":170,"l":10},{"x":3,"y":10,"a":150,"l":10},{"x":4,"y":10,"a":140,"l":9},{"x":5,"y":10,"a":115,"l":10},{"x":6,"y":10,"a":90,"l":10},{"x":7,"y":10,"a":70,"l":10},{"x":8,"y":10,"a":45,"l":9},{"x":9,"y":10,"a":22,"l":12},{"x":10,"y":10,"a":12,"l":15},{"x":11,"y":10,"a":3,"l":20},{"x":12,"y":10,"a":0,"l":19},{"x":13,"y":10,"a":0,"l":19},{"x":14,"y":10,"a":0,"l":16},{"x":15,"y":10,"a":3,"l":12},{"x":16,"y":10,"a":115,"l":11},{"x":17,"y":10,"a":110,"l":17},{"x":18,"y":10,"a":108,"l":18},{"x":19,"y":10,"a":110,"l":18},{"x":20,"y":10,"a":175,"l":5},
{"x":2,"y":9,"a":135,"l":9},{"x":3,"y":9,"a":120,"l":10},{"x":4,"y":9,"a":100,"l":12},{"x":5,"y":9,"a":95,"l":15},{"x":6,"y":9,"a":88,"l":15},{"x":7,"y":9,"a":80,"l":14},{"x":8,"y":9,"a":65,"l":14},{"x":9,"y":9,"a":50,"l":14},{"x":10,"y":9,"a":38,"l":15},{"x":11,"y":9,"a":22,"l":17},{"x":12,"y":9,"a":15,"l":20},{"x":13,"y":9,"a":10,"l":19},{"x":14,"y":9,"a":5,"l":18},{"x":15,"y":9,"a":8,"l":14},{"x":16,"y":9,"a":10,"l":11},{"x":17,"y":9,"a":30,"l":4},{"x":18,"y":9,"a":90,"l":3},{"x":19,"y":9,"a":150,"l":3},{"x":20,"y":9,"a":160,"l":5},
{"x":2,"y":8,"a":92,"l":10},{"x":3,"y":8,"a":85,"l":12},{"x":4,"y":8,"a":85,"l":13},{"x":5,"y":8,"a":68,"l":24},{"x":6,"y":8,"a":78,"l":16},{"x":7,"y":8,"a":75,"l":16},{"x":8,"y":8,"a":70,"l":16},{"x":9,"y":8,"a":55,"l":15},{"x":10,"y":8,"a":40,"l":16},{"x":11,"y":8,"a":30,"l":16},{"x":12,"y":8,"a":20,"l":17},{"x":13,"y":8,"a":15,"l":17},{"x":14,"y":8,"a":12,"l":17},{"x":15,"y":8,"a":15,"l":16},{"x":16,"y":8,"a":20,"l":13},{"x":17,"y":8,"a":45,"l":8},{"x":18,"y":8,"a":80,"l":6},{"x":19,"y":8,"a":105,"l":5},{"x":20,"y":8,"a":130,"l":5},
{"x":2,"y":7,"a":50,"l":7},{"x":3,"y":7,"a":45,"l":9},{"x":4,"y":7,"a":55,"l":11},{"x":5,"y":7,"a":62,"l":13},{"x":6,"y":7,"a":65,"l":15},{"x":7,"y":7,"a":68,"l":15},{"x":8,"y":7,"a":68,"l":15},{"x":9,"y":7,"a":60,"l":15},{"x":10,"y":7,"a":50,"l":15},{"x":11,"y":7,"a":40,"l":16},{"x":12,"y":7,"a":28,"l":19},{"x":13,"y":7,"a":25,"l":20},{"x":14,"y":7,"a":25,"l":20},{"x":15,"y":7,"a":22,"l":16},{"x":16,"y":7,"a":30,"l":13},{"x":17,"y":7,"a":50,"l":11},{"x":18,"y":7,"a":85,"l":9},{"x":19,"y":7,"a":100,"l":9},{"x":20,"y":7,"a":125,"l":7},
{"x":2,"y":6,"a":0,"l":7},{"x":3,"y":6,"a":5,"l":9},{"x":4,"y":6,"a":12,"l":12},{"x":5,"y":6,"a":20,"l":12},{"x":6,"y":6,"a":30,"l":13},{"x":7,"y":6,"a":35,"l":14},{"x":8,"y":6,"a":45,"l":13},{"x":9,"y":6,"a":50,"l":12},{"x":10,"y":6,"a":45,"l":13},{"x":11,"y":6,"a":35,"l":14},{"x":12,"y":6,"a":25,"l":16},{"x":13,"y":6,"a":25,"l":20},{"x":14,"y":6,"a":25,"l":20},{"x":15,"y":6,"a":25,"l":18},{"x":16,"y":6,"a":35,"l":14},{"x":17,"y":6,"a":60,"l":11},{"x":18,"y":6,"a":85,"l":11},{"x":19,"y":6,"a":105,"l":10},{"x":20,"y":6,"a":125,"l":9},
{"x":2,"y":5,"a":335,"l":7},{"x":3,"y":5,"a":350,"l":10},{"x":4,"y":5,"a":0,"l":12},{"x":5,"y":5,"a":8,"l":15},{"x":6,"y":5,"a":15,"l":14},{"x":7,"y":5,"a":25,"l":14},{"x":8,"y":5,"a":30,"l":13},{"x":9,"y":5,"a":40,"l":12},{"x":10,"y":5,"a":35,"l":13},{"x":11,"y":5,"a":30,"l":14},{"x":12,"y":5,"a":22,"l":15},{"x":13,"y":5,"a":18,"l":18},{"x":14,"y":5,"a":20,"l":20},{"x":15,"y":5,"a":20,"l":18},{"x":16,"y":5,"a":30,"l":14},{"x":17,"y":5,"a":60,"l":11},{"x":18,"y":5,"a":90,"l":11},{"x":19,"y":5,"a":110,"l":11},{"x":20,"y":5,"a":130,"l":10},
{"x":2,"y":4,"a":345,"l":7},{"x":3,"y":4,"a":0,"l":12},{"x":4,"y":4,"a":5,"l":15},{"x":5,"y":4,"a":8,"l":17},{"x":6,"y":4,"a":12,"l":17},{"x":7,"y":4,"a":22,"l":16},{"x":8,"y":4,"a":25,"l":14},{"x":9,"y":4,"a":30,"l":13},{"x":10,"y":4,"a":30,"l":12},{"x":11,"y":4,"a":25,"l":14},{"x":12,"y":4,"a":18,"l":16},{"x":13,"y":4,"a":12,"l":18},{"x":14,"y":4,"a":12,"l":19},{"x":15,"y":4,"a":15,"l":17},{"x":16,"y":4,"a":20,"l":15},{"x":17,"y":4,"a":50,"l":10},{"x":18,"y":4,"a":85,"l":10},{"x":19,"y":4,"a":115,"l":11},{"x":20,"y":4,"a":130,"l":12},
{"x":2,"y":3,"a":30,"l":8},{"x":3,"y":3,"a":25,"l":11},{"x":4,"y":3,"a":22,"l":14},{"x":5,"y":3,"a":22,"l":17},{"x":6,"y":3,"a":22,"l":18},{"x":7,"y":3,"a":25,"l":17},{"x":8,"y":3,"a":30,"l":15},{"x":9,"y":3,"a":35,"l":14},{"x":10,"y":3,"a":35,"l":13},{"x":11,"y":3,"a":30,"l":13},{"x":12,"y":3,"a":15,"l":15},{"x":13,"y":3,"a":8,"l":18},{"x":14,"y":3,"a":5,"l":19},{"x":15,"y":3,"a":8,"l":18},{"x":16,"y":3,"a":12,"l":15},{"x":17,"y":3,"a":20,"l":9},{"x":18,"y":3,"a":85,"l":8},{"x":19,"y":3,"a":125,"l":10},{"x":20,"y":3,"a":145,"l":13},
{"x":2,"y":2,"a":55,"l":17},{"x":3,"y":2,"a":45,"l":19},{"x":4,"y":2,"a":40,"l":21},{"x":5,"y":2,"a":40,"l":21},{"x":6,"y":2,"a":38,"l":22},{"x":7,"y":2,"a":40,"l":21},{"x":8,"y":2,"a":50,"l":20},{"x":9,"y":2,"a":55,"l":15},{"x":10,"y":2,"a":50,"l":14},{"x":11,"y":2,"a":40,"l":13},{"x":12,"y":2,"a":25,"l":13},{"x":13,"y":2,"a":12,"l":15},{"x":14,"y":2,"a":5,"l":17},{"x":15,"y":2,"a":5,"l":16},{"x":16,"y":2,"a":5,"l":12},{"x":17,"y":2,"a":10,"l":7},{"x":18,"y":2,"a":60,"l":2},{"x":19,"y":2,"a":135,"l":6},{"x":20,"y":2,"a":155,"l":13},
{"x":1,"y":17,"a":0,"l":1},{"x":2,"y":17,"a":0,"l":1},{"x":3,"y":17,"a":0,"l":1},{"x":4,"y":17,"a":0,"l":1},{"x":5,"y":17,"a":0,"l":1},{"x":6,"y":17,"a":0,"l":1},{"x":7,"y":17,"a":0,"l":1},{"x":8,"y":17,"a":0,"l":1},{"x":9,"y":17,"a":0,"l":1},{"x":10,"y":17,"a":0,"l":1},{"x":11,"y":17,"a":0,"l":1},{"x":12,"y":17,"a":0,"l":1},{"x":13,"y":17,"a":0,"l":1},{"x":14,"y":17,"a":0,"l":1},{"x":15,"y":17,"a":0,"l":1},{"x":16,"y":17,"a":0,"l":1},{"x":17,"y":17,"a":0,"l":1},{"x":18,"y":17,"a":0,"l":1},{"x":19,"y":17,"a":0,"l":1},{"x":20,"y":17,"a":0,"l":1},{"x":21,"y":17,"a":0,"l":1},
{"x":1,"y":1,"a":0,"l":1},{"x":2,"y":1,"a":0,"l":1},{"x":3,"y":1,"a":0,"l":1},{"x":4,"y":1,"a":0,"l":1},{"x":5,"y":1,"a":0,"l":1},{"x":6,"y":1,"a":0,"l":1},{"x":7,"y":1,"a":0,"l":1},{"x":8,"y":1,"a":0,"l":1},{"x":9,"y":1,"a":0,"l":1},{"x":10,"y":1,"a":0,"l":1},{"x":11,"y":1,"a":0,"l":1},{"x":12,"y":1,"a":0,"l":1},{"x":13,"y":1,"a":0,"l":1},{"x":14,"y":1,"a":0,"l":1},{"x":15,"y":1,"a":0,"l":1},{"x":16,"y":1,"a":0,"l":1},{"x":17,"y":1,"a":0,"l":1},{"x":18,"y":1,"a":0,"l":1},{"x":19,"y":1,"a":0,"l":1},{"x":20,"y":1,"a":0,"l":1},{"x":21,"y":1,"a":0,"l":1},
{"x":1,"y":2,"a":0,"l":1},{"x":1,"y":3,"a":0,"l":1},{"x":1,"y":4,"a":0,"l":1},{"x":1,"y":5,"a":0,"l":1},{"x":1,"y":6,"a":0,"l":1},{"x":1,"y":7,"a":0,"l":1},{"x":1,"y":8,"a":0,"l":1},{"x":1,"y":9,"a":0,"l":1},{"x":1,"y":10,"a":0,"l":1},{"x":1,"y":11,"a":0,"l":1},{"x":1,"y":12,"a":0,"l":1},{"x":1,"y":13,"a":0,"l":1},{"x":1,"y":14,"a":0,"l":1},{"x":1,"y":15,"a":0,"l":1},{"x":1,"y":16,"a":0,"l":1},
{"x":21,"y":2,"a":0,"l":1},{"x":21,"y":3,"a":0,"l":1},{"x":21,"y":4,"a":0,"l":1},{"x":21,"y":5,"a":0,"l":1},{"x":21,"y":6,"a":0,"l":1},{"x":21,"y":7,"a":0,"l":1},{"x":21,"y":8,"a":0,"l":1},{"x":21,"y":9,"a":0,"l":1},{"x":21,"y":10,"a":0,"l":1},{"x":21,"y":11,"a":0,"l":1},{"x":21,"y":12,"a":0,"l":1},{"x":21,"y":13,"a":0,"l":1},{"x":21,"y":14,"a":0,"l":1},{"x":21,"y":15,"a":0,"l":1},{"x":21,"y":16,"a":0,"l":1}
],
"pa":[
{"k":0,"x":2,"y":9.11},{"k":0,"x":4,"y":9.25},{"k":0,"x":5.05,"y":9.54},{"k":0,"x":5.56,"y":10.07},{"k":0,"x":5.88,"y":11},{"k":0,"x":5.94,"y":12.05},{"k":0,"x":6.95,"y":13.18},{"k":0,"x":7.96,"y":13.44},{"k":0,"x":10.04,"y":13.35},{"k":0,"x":11,"y":14},{"k":0,"x":10.55,"y":14.97},{"k":0,"x":9.98,"y":15.56},{"k":0,"x":9.47,"y":16.03},{"k":0,"x":8.97,"y":16.4},{"k":0,"x":7.96,"y":16.69},{"k":0,"x":6.82,"y":16.75},{"k":0,"x":5.94,"y":16.73},{"k":0,"x":4.99,"y":16.49},{"k":0,"x":4.17,"y":15.96},{"k":0,"x":3.04,"y":15.3},{"k":0,"x":2.03,"y":14.5},{"k":0,"x":1.58,"y":13.9},{"k":0,"x":1.24,"y":12.98},{"k":0,"x":1.17,"y":11.99},{"k":0,"x":1.23,"y":11.06},{"k":0,"x":1.52,"y":10.07},
{"k":1,"x":2,"y":9.45},{"k":1,"x":3.04,"y":9.62},{"k":1,"x":4,"y":9.62},{"k":1,"x":4.98,"y":10.01},{"k":1,"x":5.48,"y":10.8},{"k":1,"x":5.54,"y":11.66},{"k":1,"x":5.8,"y":12.25},{"k":1,"x":6.9,"y":13.38},{"k":1,"x":7.96,"y":13.71},{"k":1,"x":10.09,"y":14},{"k":1,"x":9.98,"y":14.9},{"k":1,"x":9.47,"y":15.5},{"k":1,"x":8.97,"y":16.1},{"k":1,"x":7.96,"y":16.5},{"k":1,"x":6.82,"y":16.6},{"k":1,"x":5.94,"y":16.6},{"k":1,"x":4.99,"y":16.36},{"k":1,"x":4.17,"y":15.8},{"k":1,"x":3.04,"y":15.15},{"k":1,"x":2.03,"y":14.33},{"k":1,"x":1.58,"y":13.6},{"k":1,"x":1.37,"y":12.98},{"k":1,"x":1.33,"y":11.99},{"k":1,"x":1.42,"y":11.06},{"k":1,"x":1.67,"y":10.07},
{"k":2,"x":2,"y":9.74},{"k":2,"x":3.04,"y":9.96},{"k":2,"x":4,"y":10},{"k":2,"x":4.91,"y":10.53},{"k":2,"x":5.35,"y":11.25},{"k":2,"x":5.44,"y":11.99},{"k":2,"x":6.07,"y":12.7},{"k":2,"x":6.9,"y":13.58},{"k":2,"x":7.96,"y":13.85},{"k":2,"x":8.85,"y":14.1},{"k":2,"x":9.47,"y":15},{"k":2,"x":8.97,"y":15.7},{"k":2,"x":8.34,"y":16.2},{"k":2,"x":7.96,"y":16.4},{"k":2,"x":6.82,"y":16.5},{"k":2,"x":5.94,"y":16.5},{"k":2,"x":4.99,"y":16.2},{"k":2,"x":4.17,"y":15.7},{"k":2,"x":3.04,"y":15},{"k":2,"x":2.03,"y":14.17},{"k":2,"x":1.58,"y":13.4},{"k":2,"x":1.42,"y":12.98},{"k":2,"x":1.42,"y":11.99},{"k":2,"x":1.52,"y":11.06},{"k":2,"x":1.77,"y":10.2},
{"k":3,"x":2,"y":10.07},{"k":3,"x":3.04,"y":10.2},{"k":3,"x":4,"y":10.2},{"k":3,"x":4.85,"y":10.8},{"k":3,"x":5.29,"y":11.5},{"k":3,"x":5.43,"y":12.2},{"k":3,"x":6.07,"y":12.9},{"k":3,"x":6.9,"y":13.7},{"k":3,"x":7.96,"y":14.05},{"k":3,"x":9.06,"y":15},{"k":3,"x":8.47,"y":15.83},{"k":3,"x":7.96,"y":16.3},{"k":3,"x":6.82,"y":16.45},{"k":3,"x":5.94,"y":16.4},{"k":3,"x":4.99,"y":16.14},{"k":3,"x":4.17,"y":15.63},{"k":3,"x":3.04,"y":14.94},{"k":3,"x":2.03,"y":14.05},{"k":3,"x":1.53,"y":13},{"k":3,"x":1.53,"y":12},{"k":3,"x":1.65,"y":11.06},{"k":3,"x":1.9,"y":10.5},
{"k":4,"x":2,"y":10.33},{"k":4,"x":3,"y":10.45},{"k":4,"x":4,"y":10.45},{"k":4,"x":4.8,"y":11},{"k":4,"x":5.2,"y":11.7},{"k":4,"x":5.4,"y":12.3},{"k":4,"x":6.1,"y":13.05},{"k":4,"x":6.9,"y":13.85},{"k":4,"x":7.9,"y":14.2},{"k":4,"x":8.8,"y":15},{"k":4,"x":8.3,"y":15.7},{"k":4,"x":7.9,"y":16.15},{"k":4,"x":6.8,"y":16.35},{"k":4,"x":5.9,"y":16.3},{"k":4,"x":5,"y":16.05},{"k":4,"x":4.2,"y":15.55},{"k":4,"x":3.04,"y":14.85},{"k":4,"x":2.03,"y":13.9},{"k":4,"x":1.63,"y":13},{"k":4,"x":1.63,"y":12},{"k":4,"x":1.75,"y":11.1},
{"k":5,"x":2,"y":10.6},{"k":5,"x":3,"y":10.65},{"k":5,"x":4,"y":10.65},{"k":5,"x":4.75,"y":11.2},{"k":5,"x":5.1,"y":11.9},{"k":5,"x":5.4,"y":12.45},{"k":5,"x":6.1,"y":13.15},{"k":5,"x":6.9,"y":13.95},{"k":5,"x":7.8,"y":14.35},{"k":5,"x":8.55,"y":15},{"k":5,"x":8.1,"y":15.6},{"k":5,"x":7.7,"y":16},{"k":5,"x":6.8,"y":16.25},{"k":5,"x":5.9,"y":16.2},{"k":5,"x":5,"y":15.95},{"k":5,"x":4.2,"y":15.45},{"k":5,"x":3.04,"y":14.75},{"k":5,"x":2.03,"y":13.75},{"k":5,"x":1.72,"y":13},{"k":5,"x":1.73,"y":12},{"k":5,"x":1.85,"y":11.1},
{"k":6,"x":2,"y":10.8},{"k":6,"x":3,"y":10.85},{"k":6,"x":4,"y":10.85},{"k":6,"x":4.7,"y":11.4},{"k":6,"x":5.05,"y":12.05},{"k":6,"x":5.45,"y":12.6},{"k":6,"x":6.1,"y":13.25},{"k":6,"x":6.9,"y":14.05},{"k":6,"x":7.7,"y":14.45},{"k":6,"x":8.3,"y":15},{"k":6,"x":7.9,"y":15.55},{"k":6,"x":7.4,"y":15.95},{"k":6,"x":6.8,"y":16.15},{"k":6,"x":5.9,"y":16.1},{"k":6,"x":5,"y":15.85},{"k":6,"x":4.2,"y":15.35},{"k":6,"x":3.04,"y":14.65},{"k":6,"x":2.1,"y":13.7},{"k":6,"x":1.8,"y":13},{"k":6,"x":1.82,"y":12},{"k":6,"x":1.92,"y":11.1},
{"k":7,"x":2,"y":11},{"k":7,"x":3,"y":11.05},{"k":7,"x":4,"y":11.05},{"k":7,"x":4.65,"y":11.55},{"k":7,"x":5,"y":12.15},{"k":7,"x":5.45,"y":12.7},{"k":7,"x":6.1,"y":13.35},{"k":7,"x":6.9,"y":14.15},{"k":7,"x":7.5,"y":14.5},{"k":7,"x":8.05,"y":15},{"k":7,"x":7.7,"y":15.5},{"k":7,"x":7.2,"y":15.85},{"k":7,"x":6.7,"y":16.05},{"k":7,"x":5.9,"y":16},{"k":7,"x":5,"y":15.75},{"k":7,"x":4.2,"y":15.25},{"k":7,"x":3.04,"y":14.5},{"k":7,"x":2.2,"y":13.6},{"k":7,"x":1.87,"y":13},{"k":7,"x":1.9,"y":12},{"k":7,"x":1.97,"y":11.2},
{"k":8,"x":2,"y":11.2},{"k":8,"x":3,"y":11.25},{"k":8,"x":4,"y":11.3},{"k":8,"x":4.6,"y":11.7},{"k":8,"x":4.95,"y":12.25},{"k":8,"x":5.45,"y":12.8},{"k":8,"x":6.1,"y":13.45},{"k":8,"x":6.9,"y":14.2},{"k":8,"x":7.3,"y":14.55},{"k":8,"x":7.8,"y":15},{"k":8,"x":7.45,"y":15.45},{"k":8,"x":7,"y":15.75},{"k":8,"x":6.6,"y":15.95},{"k":8,"x":5.9,"y":15.9},{"k":8,"x":5,"y":15.65},{"k":8,"x":4.2,"y":15.15},{"k":8,"x":3.04,"y":14.4},{"k":8,"x":2.3,"y":13.55},{"k":8,"x":1.95,"y":13},{"k":8,"x":1.97,"y":12},{"k":8,"x":2,"y":11.5},
{"k":9,"x":2,"y":11.6},{"k":9,"x":3,"y":11.5},{"k":9,"x":4,"y":11.5},{"k":9,"x":4.6,"y":11.85},{"k":9,"x":5,"y":12.35},{"k":9,"x":5.45,"y":12.9},{"k":9,"x":6.1,"y":13.55},{"k":9,"x":6.9,"y":14.25},{"k":9,"x":7.55,"y":15},{"k":9,"x":7.2,"y":15.4},{"k":9,"x":6.7,"y":15.65},{"k":9,"x":6.3,"y":15.8},{"k":9,"x":5.9,"y":15.75},{"k":9,"x":5,"y":15.55},{"k":9,"x":4.2,"y":15.05},{"k":9,"x":3.04,"y":14.25},{"k":9,"x":2.4,"y":13.45},{"k":9,"x":2.05,"y":13},{"k":9,"x":2,"y":12.1},
{"k":10,"x":2,"y":11.79},{"k":10,"x":4,"y":11.65},{"k":10,"x":4.7,"y":12.1},{"k":10,"x":5.1,"y":12.5},{"k":10,"x":5.5,"y":13},{"k":10,"x":6.1,"y":13.6},{"k":10,"x":6.9,"y":14.3},{"k":10,"x":7.3,"y":15},{"k":10,"x":6.95,"y":15.35},{"k":10,"x":6.5,"y":15.55},{"k":10,"x":5.9,"y":15.65},{"k":10,"x":5,"y":15.4},{"k":10,"x":4.2,"y":14.9},{"k":10,"x":3.04,"y":14.1},{"k":10,"x":2.5,"y":13.35},{"k":10,"x":2.3,"y":13},{"k":10,"x":2,"y":12},
{"k":11,"x":2.35,"y":12},{"k":11,"x":4,"y":11.85},{"k":11,"x":4.7,"y":12.25},{"k":11,"x":5.2,"y":12.7},{"k":11,"x":5.5,"y":13.1},{"k":11,"x":6.1,"y":13.7},{"k":11,"x":6.9,"y":14.5},{"k":11,"x":7,"y":15},{"k":11,"x":6.6,"y":15.3},{"k":11,"x":5.9,"y":15.5},{"k":11,"x":5,"y":15.25},{"k":11,"x":4.2,"y":14.75},{"k":11,"x":3.04,"y":13.95},{"k":11,"x":2.55,"y":13.2},{"k":11,"x":2.35,"y":12.95},
{"k":12,"x":2.8,"y":12.45},{"k":12,"x":3.04,"y":12.25},{"k":12,"x":4,"y":12.05},{"k":12,"x":4.7,"y":12.45},{"k":12,"x":5.3,"y":12.9},{"k":12,"x":5.7,"y":13.2},{"k":12,"x":6.2,"y":13.8},{"k":12,"x":6.6,"y":14.4},{"k":12,"x":6.9,"y":15},{"k":12,"x":6.5,"y":15.2},{"k":12,"x":5.9,"y":15.35},{"k":12,"x":5,"y":15.1},{"k":12,"x":4.2,"y":14.6},{"k":12,"x":3.04,"y":13.8},{"k":12,"x":2.65,"y":13.05},
{"k":13,"x":2.95,"y":12.75},{"k":13,"x":4,"y":12.2},{"k":13,"x":4.7,"y":12.6},{"k":13,"x":5.3,"y":13},{"k":13,"x":5.7,"y":13.35},{"k":13,"x":6.2,"y":13.95},{"k":13,"x":6.55,"y":14.6},{"k":13,"x":6.6,"y":15},{"k":13,"x":5.9,"y":15.25},{"k":13,"x":5,"y":15},{"k":13,"x":4.2,"y":14.5},{"k":13,"x":3.04,"y":13.7},{"k":13,"x":2.9,"y":13},
{"k":14,"x":3,"y":13},{"k":14,"x":4,"y":12.35},{"k":14,"x":4.7,"y":12.8},{"k":14,"x":5.4,"y":13.3},{"k":14,"x":5.9,"y":13.8},{"k":14,"x":6.2,"y":14.4},{"k":14,"x":6.45,"y":15},{"k":14,"x":5.8,"y":15.2},{"k":14,"x":5,"y":14.9},{"k":14,"x":4.2,"y":14.3},{"k":14,"x":3.4,"y":13.7},
{"k":15,"x":3.3,"y":13},{"k":15,"x":4,"y":12.55},{"k":15,"x":4.7,"y":13},{"k":15,"x":5.3,"y":13.35},{"k":15,"x":5.8,"y":13.8},{"k":15,"x":5.4,"y":14.5},{"k":15,"x":5,"y":14.7},{"k":15,"x":4.2,"y":14.15},{"k":15,"x":3.6,"y":13.5},
{"k":16,"x":3.55,"y":13},{"k":16,"x":4,"y":12.65},{"k":16,"x":5.05,"y":13.38},{"k":16,"x":5.56,"y":14},{"k":16,"x":5.05,"y":14.63},{"k":16,"x":4.05,"y":14.03},
{"k":17,"x":5,"y":13.65},{"k":17,"x":5.45,"y":14},{"k":17,"x":5,"y":14.4},{"k":17,"x":4.5,"y":14.05},
{"k":18,"x":5,"y":13.8},{"k":18,"x":5.25,"y":14},{"k":18,"x":5,"y":14.2},{"k":18,"x":4.75,"y":14}
],
"pb":[
{"k":0,"x":2,"y":10.34},{"k":0,"x":3,"y":10.77},{"k":0,"x":4.05,"y":11.26},{"k":0,"x":4.4,"y":11.96},{"k":0,"x":5.16,"y":13.02},{"k":0,"x":6.99,"y":14.28},{"k":0,"x":8,"y":14.48},{"k":0,"x":9.9,"y":14.5},{"k":0,"x":12.04,"y":14.32},{"k":0,"x":13,"y":14.28},{"k":0,"x":14.03,"y":15},{"k":0,"x":13.5,"y":16},{"k":0,"x":12.9,"y":16.3},{"k":0,"x":12.04,"y":16.6},{"k":0,"x":10,"y":16.83},{"k":0,"x":8,"y":16.89},{"k":0,"x":6,"y":16.89},{"k":0,"x":5.1,"y":16.8},{"k":0,"x":4.02,"y":16.6},{"k":0,"x":3,"y":15.93},{"k":0,"x":2,"y":14.8},{"k":0,"x":1.43,"y":14.08},{"k":0,"x":1.24,"y":12.95},{"k":0,"x":1.24,"y":11.96},{"k":0,"x":1.5,"y":11.03},
{"k":1,"x":2,"y":10.7},{"k":1,"x":3.07,"y":11.1},{"k":1,"x":4.08,"y":11.63},{"k":1,"x":4.27,"y":12.03},{"k":1,"x":5.03,"y":13.08},{"k":1,"x":6.92,"y":14.37},{"k":1,"x":8,"y":14.6},{"k":1,"x":9.9,"y":14.68},{"k":1,"x":12.04,"y":14.6},{"k":1,"x":13.17,"y":14.9},{"k":1,"x":12.93,"y":15.93},{"k":1,"x":12.04,"y":16.4},{"k":1,"x":10,"y":16.7},{"k":1,"x":8,"y":16.8},{"k":1,"x":6,"y":16.8},{"k":1,"x":5.1,"y":16.7},{"k":1,"x":4.08,"y":16.46},{"k":1,"x":3.07,"y":15.73},{"k":1,"x":2,"y":14.54},{"k":1,"x":1.56,"y":13.8},{"k":1,"x":1.37,"y":12.95},{"k":1,"x":1.39,"y":11.96},{"k":1,"x":1.62,"y":11.17},
{"k":2,"x":2,"y":11.03},{"k":2,"x":3.07,"y":11.36},{"k":2,"x":4.08,"y":11.85},{"k":2,"x":4.84,"y":13.02},{"k":2,"x":6.86,"y":14.48},{"k":2,"x":8,"y":14.74},{"k":2,"x":9.9,"y":14.85},{"k":2,"x":12.3,"y":14.94},{"k":2,"x":12.35,"y":16},{"k":2,"x":12.04,"y":16.2},{"k":2,"x":10,"y":16.6},{"k":2,"x":8,"y":16.7},{"k":2,"x":6,"y":16.7},{"k":2,"x":5.1,"y":16.6},{"k":2,"x":4.08,"y":16.33},{"k":2,"x":3.07,"y":15.6},{"k":2,"x":2,"y":14.35},{"k":2,"x":1.62,"y":13.55},{"k":2,"x":1.5,"y":12.95},{"k":2,"x":1.53,"y":11.96},{"k":2,"x":1.75,"y":11.36},
{"k":3,"x":2,"y":11.23},{"k":3,"x":3.07,"y":11.56},{"k":3,"x":4.08,"y":12.03},{"k":3,"x":4.78,"y":13.02},{"k":3,"x":6.86,"y":14.58},{"k":3,"x":8,"y":14.87},{"k":3,"x":9.9,"y":15.03},{"k":3,"x":11.03,"y":15.17},{"k":3,"x":11.9,"y":16},{"k":3,"x":10,"y":16.49},{"k":3,"x":8,"y":16.6},{"k":3,"x":6,"y":16.6},{"k":3,"x":5.1,"y":16.49},{"k":3,"x":4.08,"y":16.2},{"k":3,"x":3.07,"y":15.47},{"k":3,"x":2,"y":14.15},{"k":3,"x":1.75,"y":13.55},{"k":3,"x":1.62,"y":12.95},{"k":3,"x":1.68,"y":11.96},{"k":3,"x":1.87,"y":11.5},
{"k":4,"x":2,"y":11.43},{"k":4,"x":3.07,"y":11.76},{"k":4,"x":4.08,"y":12.2},{"k":4,"x":4.72,"y":13.02},{"k":4,"x":6.86,"y":14.68},{"k":4,"x":8,"y":14.98},{"k":4,"x":9.9,"y":15.2},{"k":4,"x":10.9,"y":15.34},{"k":4,"x":11.6,"y":16},{"k":4,"x":10,"y":16.4},{"k":4,"x":8,"y":16.5},{"k":4,"x":6,"y":16.5},{"k":4,"x":5.1,"y":16.4},{"k":4,"x":4.08,"y":16.07},{"k":4,"x":3.07,"y":15.34},{"k":4,"x":2.13,"y":14.08},{"k":4,"x":1.8,"y":13.4},{"k":4,"x":1.75,"y":12.95},{"k":4,"x":1.8,"y":11.96},
{"k":5,"x":2,"y":11.7},{"k":5,"x":3.07,"y":11.96},{"k":5,"x":4.08,"y":12.36},{"k":5,"x":4.65,"y":13.02},{"k":5,"x":6.86,"y":14.77},{"k":5,"x":8,"y":15.09},{"k":5,"x":9.9,"y":15.34},{"k":5,"x":10.8,"y":15.54},{"k":5,"x":11.28,"y":16},{"k":5,"x":10,"y":16.3},{"k":5,"x":8,"y":16.41},{"k":5,"x":6,"y":16.41},{"k":5,"x":5.1,"y":16.3},{"k":5,"x":4.08,"y":15.93},{"k":5,"x":3.07,"y":15.2},{"k":5,"x":2.25,"y":14.01},{"k":5,"x":1.9,"y":13.15},{"k":5,"x":1.9,"y":11.96},
{"k":6,"x":2,"y":11.9},{"k":6,"x":3.07,"y":12.16},{"k":6,"x":4.02,"y":12.42},{"k":6,"x":4.59,"y":13.02},{"k":6,"x":6.86,"y":14.85},{"k":6,"x":8,"y":15.18},{"k":6,"x":9.9,"y":15.47},{"k":6,"x":10.6,"y":15.7},{"k":6,"x":11.03,"y":16},{"k":6,"x":10,"y":16.23},{"k":6,"x":8,"y":16.33},{"k":6,"x":6,"y":16.36},{"k":6,"x":5.1,"y":16.2},{"k":6,"x":4.08,"y":15.83},{"k":6,"x":3.07,"y":15.07},{"k":6,"x":2.3,"y":13.95},{"k":6,"x":1.94,"y":12.9},
{"k":7,"x":2,"y":12.55},{"k":7,"x":3.07,"y":12.4},{"k":7,"x":4.02,"y":12.65},{"k":7,"x":4.5,"y":13.02},{"k":7,"x":6.86,"y":14.95},{"k":7,"x":8,"y":15.28},{"k":7,"x":9.9,"y":15.55},{"k":7,"x":10.4,"y":15.75},{"k":7,"x":10.8,"y":16},{"k":7,"x":10,"y":16.16},{"k":7,"x":8,"y":16.25},{"k":7,"x":6,"y":16.28},{"k":7,"x":5.1,"y":16.1},{"k":7,"x":4.08,"y":15.73},{"k":7,"x":3.07,"y":14.95},{"k":7,"x":2.4,"y":13.9},{"k":7,"x":2,"y":13},
{"k":8,"x":2.05,"y":12.95},{"k":8,"x":3.07,"y":12.7},{"k":8,"x":4.02,"y":12.85},{"k":8,"x":4.45,"y":13.1},{"k":8,"x":6.86,"y":15.03},{"k":8,"x":8,"y":15.37},{"k":8,"x":9.9,"y":15.65},{"k":8,"x":10.55,"y":16},{"k":8,"x":10,"y":16.1},{"k":8,"x":8,"y":16.18},{"k":8,"x":6,"y":16.2},{"k":8,"x":5.1,"y":16},{"k":8,"x":4.08,"y":15.62},{"k":8,"x":3.07,"y":14.85},{"k":8,"x":2.5,"y":13.85},
{"k":9,"x":2.3,"y":13},{"k":9,"x":3.07,"y":12.85},{"k":9,"x":4.02,"y":12.95},{"k":9,"x":4.4,"y":13.2},{"k":9,"x":6.86,"y":15.1},{"k":9,"x":8,"y":15.46},{"k":9,"x":9.9,"y":15.75},{"k":9,"x":10.3,"y":16},{"k":9,"x":8,"y":16.12},{"k":9,"x":6,"y":16.12},{"k":9,"x":5.1,"y":15.9},{"k":9,"x":4.08,"y":15.52},{"k":9,"x":3.07,"y":14.75},{"k":9,"x":2.6,"y":13.85},
{"k":10,"x":2.6,"y":13},{"k":10,"x":3.07,"y":12.98},{"k":10,"x":4.02,"y":13.05},{"k":10,"x":4.35,"y":13.3},{"k":10,"x":6.86,"y":15.18},{"k":10,"x":8,"y":15.55},{"k":10,"x":9.85,"y":15.9},{"k":10,"x":10.05,"y":16},{"k":10,"x":8,"y":16.05},{"k":10,"x":6,"y":16.05},{"k":10,"x":5.1,"y":15.8},{"k":10,"x":4.08,"y":15.42},{"k":10,"x":3.3,"y":14.6},{"k":10,"x":2.85,"y":13.4},
{"k":11,"x":2.9,"y":13},{"k":11,"x":4,"y":13},{"k":11,"x":4.3,"y":13.25},{"k":11,"x":6.86,"y":15.3},{"k":11,"x":8,"y":15.68},{"k":11,"x":9.5,"y":16},{"k":11,"x":8,"y":15.98},{"k":11,"x":6.5,"y":16.02},{"k":11,"x":5.5,"y":15.85},{"k":11,"x":4.5,"y":15.5},{"k":11,"x":3.9,"y":15},{"k":11,"x":3.3,"y":14.3},
{"k":12,"x":3.3,"y":14},{"k":12,"x":4,"y":13.15},{"k":12,"x":4.3,"y":13.35},{"k":12,"x":6.86,"y":15.35},{"k":12,"x":8,"y":15.75},{"k":12,"x":9.2,"y":16},{"k":12,"x":8,"y":15.9},{"k":12,"x":6.5,"y":16},{"k":12,"x":5.5,"y":15.75},{"k":12,"x":4.5,"y":15.35},{"k":12,"x":3.9,"y":14.8},
{"k":13,"x":3.45,"y":14},{"k":13,"x":4,"y":13.3},{"k":13,"x":4.4,"y":13.5},{"k":13,"x":6.9,"y":15.4},{"k":13,"x":8,"y":15.8},{"k":13,"x":8.9,"y":16},{"k":13,"x":8,"y":15.88},{"k":13,"x":6.7,"y":16},{"k":13,"x":5.5,"y":15.65},{"k":13,"x":4.5,"y":15.25},{"k":13,"x":3.95,"y":14.7},
{"k":14,"x":3.6,"y":14},{"k":14,"x":4,"y":13.45},{"k":14,"x":4.4,"y":13.6},{"k":14,"x":6.9,"y":15.45},{"k":14,"x":8,"y":15.85},{"k":14,"x":8.4,"y":15.95},{"k":14,"x":7,"y":15.95},{"k":14,"x":6.2,"y":16},{"k":14,"x":5.4,"y":15.55},{"k":14,"x":4.5,"y":15.15},{"k":14,"x":4,"y":14.6},
{"k":15,"x":3.7,"y":14.05},{"k":15,"x":4,"y":13.55},{"k":15,"x":4.5,"y":13.75},{"k":15,"x":6.5,"y":15.3},{"k":15,"x":7.4,"y":15.7},{"k":15,"x":7.3,"y":15.93},{"k":15,"x":6.3,"y":15.97},{"k":15,"x":5.4,"y":15.45},{"k":15,"x":4.5,"y":15.05},{"k":15,"x":4,"y":14.5},
{"k":16,"x":3.9,"y":14.1},{"k":16,"x":4.1,"y":13.75},{"k":16,"x":5,"y":14.05},{"k":16,"x":5.5,"y":14.7},{"k":16,"x":6.5,"y":15.25},{"k":16,"x":7,"y":15.85},{"k":16,"x":6.2,"y":15.97},{"k":16,"x":5.4,"y":15.35},{"k":16,"x":4.5,"y":15},{"k":16,"x":4.05,"y":14.4},
{"k":17,"x":4.95,"y":15.05},{"k":17,"x":5.9,"y":15.15},{"k":17,"x":6.9,"y":15.5},{"k":17,"x":6.8,"y":15.9},{"k":17,"x":6.2,"y":15.9},{"k":17,"x":5.6,"y":15.35},
{"k":18,"x":6,"y":15.4},{"k":18,"x":6.8,"y":15.55},{"k":18,"x":6.6,"y":15.85},{"k":18,"x":6.2,"y":15.85}
],
"pc":[
{"k":0,"x":2,"y":9.12},{"k":0,"x":2.86,"y":9.39},{"k":0,"x":4.06,"y":9.39},{"k":0,"x":4.88,"y":9.74},{"k":0,"x":5.77,"y":11},{"k":0,"x":5.49,"y":12},{"k":0,"x":5.89,"y":13.05},{"k":0,"x":7.03,"y":13.51},{"k":0,"x":8.04,"y":13.62},{"k":0,"x":9.94,"y":13.71},{"k":0,"x":11,"y":13.98},{"k":0,"x":10.63,"y":15.03},{"k":0,"x":9.94,"y":16.03},{"k":0,"x":8.99,"y":16.6},{"k":0,"x":8.04,"y":16.75},{"k":0,"x":7.03,"y":16.79},{"k":0,"x":6.02,"y":16.73},{"k":0,"x":5.07,"y":16.53},{"k":0,"x":4.57,"y":16.09},{"k":0,"x":4,"y":15.83},{"k":0,"x":3.05,"y":15.37},{"k":0,"x":2,"y":14.5},{"k":0,"x":1.53,"y":13.98},{"k":0,"x":1.22,"y":12.98},{"k":0,"x":1.15,"y":12},{"k":0,"x":1.19,"y":11},{"k":0,"x":1.47,"y":9.94},
{"k":1,"x":2,"y":9.48},{"k":1,"x":2.92,"y":9.7},{"k":1,"x":4,"y":9.78},{"k":1,"x":4.76,"y":10.2},{"k":1,"x":5.26,"y":11},{"k":1,"x":5.22,"y":12},{"k":1,"x":5.77,"y":13.12},{"k":1,"x":6.97,"y":13.62},{"k":1,"x":8.04,"y":13.78},{"k":1,"x":9.94,"y":14.1},{"k":1,"x":10.19,"y":14.97},{"k":1,"x":9.69,"y":15.96},{"k":1,"x":8.99,"y":16.46},{"k":1,"x":8.04,"y":16.62},{"k":1,"x":7.03,"y":16.66},{"k":1,"x":6.02,"y":16.6},{"k":1,"x":5.07,"y":16.4},{"k":1,"x":4.63,"y":15.96},{"k":1,"x":4,"y":15.7},{"k":1,"x":3.05,"y":15.23},{"k":1,"x":2,"y":14.33},{"k":1,"x":1.6,"y":13.71},{"k":1,"x":1.37,"y":12.98},{"k":1,"x":1.32,"y":12},{"k":1,"x":1.37,"y":11},{"k":1,"x":1.66,"y":10},
{"k":2,"x":2,"y":9.81},{"k":2,"x":2.92,"y":10.05},{"k":2,"x":4,"y":10.14},{"k":2,"x":4.57,"y":10.47},{"k":2,"x":4.95,"y":11.2},{"k":2,"x":4.98,"y":12},{"k":2,"x":5.64,"y":13.18},{"k":2,"x":6.9,"y":13.71},{"k":2,"x":8.04,"y":13.9},{"k":2,"x":9.05,"y":14.17},{"k":2,"x":9.75,"y":14.97},{"k":2,"x":9.33,"y":15.96},{"k":2,"x":8.99,"y":16.32},{"k":2,"x":8.04,"y":16.52},{"k":2,"x":7.03,"y":16.56},{"k":2,"x":6.02,"y":16.49},{"k":2,"x":5.07,"y":16.29},{"k":2,"x":4.63,"y":15.83},{"k":2,"x":4,"y":15.56},{"k":2,"x":3.05,"y":15.1},{"k":2,"x":2,"y":14.17},{"k":2,"x":1.66,"y":13.51},{"k":2,"x":1.5,"y":12.98},{"k":2,"x":1.47,"y":12},{"k":2,"x":1.53,"y":11},{"k":2,"x":1.75,"y":10.2},
{"k":3,"x":2,"y":10.11},{"k":3,"x":2.92,"y":10.27},{"k":3,"x":4,"y":10.4},{"k":3,"x":4.44,"y":10.73},{"k":3,"x":4.76,"y":11.4},{"k":3,"x":4.82,"y":12},{"k":3,"x":5.58,"y":13.25},{"k":3,"x":6.9,"y":13.84},{"k":3,"x":8.04,"y":14.07},{"k":3,"x":8.93,"y":14.37},{"k":3,"x":9.5,"y":14.97},{"k":3,"x":9.05,"y":15.96},{"k":3,"x":8.04,"y":16.4},{"k":3,"x":7.03,"y":16.45},{"k":3,"x":6.02,"y":16.4},{"k":3,"x":5.07,"y":16.16},{"k":3,"x":4.63,"y":15.7},{"k":3,"x":4,"y":15.46},{"k":3,"x":3.05,"y":14.97},{"k":3,"x":2,"y":14.02},{"k":3,"x":1.6,"y":12.98},{"k":3,"x":1.6,"y":12},{"k":3,"x":1.66,"y":11},{"k":3,"x":1.85,"y":10.34},
{"k":4,"x":2,"y":10.3},{"k":4,"x":2.92,"y":10.53},{"k":4,"x":4,"y":10.65},{"k":4,"x":4.35,"y":10.95},{"k":4,"x":4.62,"y":11.55},{"k":4,"x":4.75,"y":12.1},{"k":4,"x":5.5,"y":13.3},{"k":4,"x":6.9,"y":13.95},{"k":4,"x":8.04,"y":14.2},{"k":4,"x":8.75,"y":14.5},{"k":4,"x":9.2,"y":15},{"k":4,"x":8.8,"y":15.9},{"k":4,"x":8.04,"y":16.3},{"k":4,"x":7.03,"y":16.35},{"k":4,"x":6.02,"y":16.3},{"k":4,"x":5.07,"y":16.05},{"k":4,"x":4.63,"y":15.6},{"k":4,"x":4,"y":15.35},{"k":4,"x":3.05,"y":14.85},{"k":4,"x":2.05,"y":13.9},{"k":4,"x":1.7,"y":12.98},{"k":4,"x":1.7,"y":12},{"k":4,"x":1.77,"y":11},{"k":4,"x":1.95,"y":10.5},
{"k":5,"x":2,"y":10.55},{"k":5,"x":2.92,"y":10.75},{"k":5,"x":4,"y":10.85},{"k":5,"x":4.3,"y":11.15},{"k":5,"x":4.55,"y":11.7},{"k":5,"x":4.68,"y":12.2},{"k":5,"x":5.45,"y":13.38},{"k":5,"x":6.9,"y":14.05},{"k":5,"x":8.04,"y":14.3},{"k":5,"x":8.6,"y":14.6},{"k":5,"x":9,"y":15},{"k":5,"x":8.6,"y":15.85},{"k":5,"x":8.04,"y":16.2},{"k":5,"x":7.03,"y":16.25},{"k":5,"x":6.02,"y":16.2},{"k":5,"x":5.07,"y":15.95},{"k":5,"x":4.6,"y":15.5},{"k":5,"x":4,"y":15.25},{"k":5,"x":3.05,"y":14.75},{"k":5,"x":2.15,"y":13.8},{"k":5,"x":1.8,"y":12.98},{"k":5,"x":1.8,"y":12},{"k":5,"x":1.87,"y":11},
{"k":6,"x":2,"y":10.8},{"k":6,"x":2.92,"y":11},{"k":6,"x":4,"y":11.05},{"k":6,"x":4.25,"y":11.35},{"k":6,"x":4.5,"y":11.85},{"k":6,"x":4.6,"y":12.3},{"k":6,"x":5.4,"y":13.45},{"k":6,"x":6.9,"y":14.15},{"k":6,"x":8.04,"y":14.42},{"k":6,"x":8.5,"y":14.7},{"k":6,"x":8.75,"y":15},{"k":6,"x":8.4,"y":15.8},{"k":6,"x":8.04,"y":16.1},{"k":6,"x":7.03,"y":16.15},{"k":6,"x":6.02,"y":16.1},{"k":6,"x":5.07,"y":15.85},{"k":6,"x":4.55,"y":15.4},{"k":6,"x":4,"y":15.15},{"k":6,"x":3.05,"y":14.65},{"k":6,"x":2.25,"y":13.75},{"k":6,"x":1.9,"y":12.98},{"k":6,"x":1.9,"y":12},{"k":6,"x":1.95,"y":11.1},
{"k":7,"x":2,"y":11},{"k":7,"x":2.92,"y":11.2},{"k":7,"x":4,"y":11.25},{"k":7,"x":4.25,"y":11.55},{"k":7,"x":4.45,"y":12},{"k":7,"x":4.55,"y":12.4},{"k":7,"x":5.35,"y":13.5},{"k":7,"x":6.9,"y":14.25},{"k":7,"x":8.04,"y":14.55},{"k":7,"x":8.55,"y":15},{"k":7,"x":8.2,"y":15.7},{"k":7,"x":7.7,"y":16},{"k":7,"x":7.03,"y":16.05},{"k":7,"x":6.02,"y":16},{"k":7,"x":5.07,"y":15.75},{"k":7,"x":4.5,"y":15.3},{"k":7,"x":4,"y":15.05},{"k":7,"x":3.05,"y":14.55},{"k":7,"x":2.35,"y":13.65},{"k":7,"x":1.97,"y":12.98},{"k":7,"x":1.97,"y":12},{"k":7,"x":2,"y":11.2},
{"k":8,"x":2,"y":11.25},{"k":8,"x":2.92,"y":11.45},{"k":8,"x":4,"y":11.45},{"k":8,"x":4.25,"y":11.75},{"k":8,"x":4.4,"y":12.15},{"k":8,"x":4.5,"y":12.5},{"k":8,"x":5.3,"y":13.6},{"k":8,"x":6.9,"y":14.35},{"k":8,"x":7.8,"y":14.65},{"k":8,"x":8.3,"y":15},{"k":8,"x":8,"y":15.6},{"k":8,"x":7.4,"y":15.9},{"k":8,"x":7,"y":15.95},{"k":8,"x":6,"y":15.9},{"k":8,"x":5.07,"y":15.65},{"k":8,"x":4.45,"y":15.2},{"k":8,"x":4,"y":14.95},{"k":8,"x":3.05,"y":14.45},{"k":8,"x":2.45,"y":13.6},{"k":8,"x":2.03,"y":12.98},{"k":8,"x":2,"y":12},
{"k":9,"x":2,"y":11.5},{"k":9,"x":3,"y":11.65},{"k":9,"x":4,"y":11.7},{"k":9,"x":4.3,"y":12.05},{"k":9,"x":4.45,"y":12.6},{"k":9,"x":5.25,"y":13.7},{"k":9,"x":6.9,"y":14.45},{"k":9,"x":7.6,"y":14.7},{"k":9,"x":8.05,"y":15},{"k":9,"x":7.8,"y":15.5},{"k":9,"x":7,"y":15.8},{"k":9,"x":6,"y":15.8},{"k":9,"x":5.07,"y":15.55},{"k":9,"x":4.4,"y":15.1},{"k":9,"x":4,"y":14.85},{"k":9,"x":3.05,"y":14.35},{"k":9,"x":2.55,"y":13.5},{"k":9,"x":2.05,"y":12.98},{"k":9,"x":2,"y":12},
{"k":10,"x":2,"y":11.68},{"k":10,"x":3,"y":12},{"k":10,"x":4,"y":12},{"k":10,"x":4.4,"y":12.7},{"k":10,"x":5.2,"y":13.75},{"k":10,"x":6.9,"y":14.55},{"k":10,"x":7.8,"y":15},{"k":10,"x":7,"y":15.65},{"k":10,"x":6,"y":15.7},{"k":10,"x":5.07,"y":15.45},{"k":10,"x":4.35,"y":15},{"k":10,"x":4,"y":14.75},{"k":10,"x":3.05,"y":14.2},{"k":10,"x":2.65,"y":13.4},{"k":10,"x":2.3,"y":12.98},
{"k":11,"x":3,"y":12.22},{"k":11,"x":4,"y":12.22},{"k":11,"x":4.4,"y":12.8},{"k":11,"x":5.2,"y":13.85},{"k":11,"x":6.9,"y":14.65},{"k":11,"x":7.5,"y":15},{"k":11,"x":7,"y":15.5},{"k":11,"x":6,"y":15.6},{"k":11,"x":5,"y":15.35},{"k":11,"x":4.3,"y":14.9},{"k":11,"x":3.05,"y":14.05},{"k":11,"x":2.6,"y":13.05},
{"k":12,"x":3,"y":12.6},{"k":12,"x":4,"y":12.6},{"k":12,"x":4.5,"y":13},{"k":12,"x":5.2,"y":13.95},{"k":12,"x":6.9,"y":14.75},{"k":12,"x":7.3,"y":15},{"k":12,"x":6.9,"y":15.4},{"k":12,"x":6,"y":15.5},{"k":12,"x":5,"y":15.25},{"k":12,"x":4.3,"y":14.8},{"k":12,"x":3.4,"y":14.05},{"k":12,"x":2.85,"y":13.1},
{"k":13,"x":3,"y":13},{"k":13,"x":4,"y":12.65},{"k":13,"x":4.55,"y":13.1},{"k":13,"x":5.2,"y":14},{"k":13,"x":6.9,"y":14.85},{"k":13,"x":7.1,"y":15},{"k":13,"x":6.8,"y":15.3},{"k":13,"x":6,"y":15.4},{"k":13,"x":5,"y":15.15},{"k":13,"x":4.3,"y":14.7},{"k":13,"x":3.5,"y":14},
{"k":14,"x":3.5,"y":13},{"k":14,"x":4,"y":12.8},{"k":14,"x":4.6,"y":13.2},{"k":14,"x":5.4,"y":14.05},{"k":14,"x":6.7,"y":14.9},{"k":14,"x":6.9,"y":15},{"k":14,"x":6,"y":15.3},{"k":14,"x":5,"y":15.05},{"k":14,"x":4.3,"y":14.6},{"k":14,"x":3.6,"y":14},
{"k":15,"x":3.9,"y":13},{"k":15,"x":4.1,"y":12.95},{"k":15,"x":5,"y":13.8},{"k":15,"x":5.5,"y":14.1},{"k":15,"x":6.8,"y":15},{"k":15,"x":6,"y":15.2},{"k":15,"x":5,"y":14.95},{"k":15,"x":4.2,"y":14.4},{"k":15,"x":3.8,"y":14},
{"k":16,"x":4,"y":13.1},{"k":16,"x":5,"y":13.7},{"k":16,"x":5.3,"y":14},{"k":16,"x":5.8,"y":14.5},{"k":16,"x":6.5,"y":15},{"k":16,"x":5.9,"y":15.15},{"k":16,"x":5,"y":14.9},{"k":16,"x":4.2,"y":14.3},{"k":16,"x":3.85,"y":14},
{"k":17,"x":4,"y":14},{"k":17,"x":4.9,"y":13.65},{"k":17,"x":5.2,"y":14.05},{"k":17,"x":5,"y":14.5},{"k":17,"x":4.5,"y":14.3},
{"k":18,"x":4.5,"y":14},{"k":18,"x":4.95,"y":13.85},{"k":18,"x":5,"y":14.2},{"k":18,"x":4.7,"y":14.2}
],
"c1":[{"a":0.106,"b":0.131},{"a":0.131,"b":0.155},{"a":0.155,"b":0.18},{"a":0.18,"b":0.204},{"a":0.204,"b":0.229},{"a":0.229,"b":0.254},{"a":0.254,"b":0.278},{"a":0.278,"b":0.303},{"a":0.303,"b":0.327},{"a":0.327,"b":0.352},{"a":0.352,"b":0.377},{"a":0.377,"b":0.401},{"a":0.401,"b":0.426},{"a":0.426,"b":0.45},{"a":0.45,"b":0.475},{"a":0.475,"b":0.5},{"a":0.5,"b":0.524},{"a":0.524,"b":0.549},{"a":0.549,"b":0.573},{"a":0.573,"b":0.598},{"a":0.598,"b":0.623},{"a":0.623,"b":0.647},{"a":0.647,"b":0.672},{"a":0.672,"b":0.696},{"a":0.696,"b":0.721},{"a":0.721,"b":0.746},{"a":0.746,"b":0.77},{"a":0.77,"b":0.795},{"a":0.795,"b":0.819},{"a":0.819,"b":0.844},{"a":0.844,"b":0.869},{"a":0.869,"b":0.893},{"a":0.893,"b":0.918},{"a":0.918,"b":0.942},{"a":0.942,"b":0.967},{"a":0.967,"b":0.997}],
"c2":[{"a":0.105,"b":0.128},{"a":0.128,"b":0.151},{"a":0.151,"b":0.175},{"a":0.175,"b":0.198},{"a":0.198,"b":0.221},{"a":0.221,"b":0.244},{"a":0.244,"b":0.268},{"a":0.268,"b":0.291},{"a":0.291,"b":0.314},{"a":0.314,"b":0.338},{"a":0.338,"b":0.361},{"a":0.361,"b":0.384},{"a":0.384,"b":0.407},{"a":0.407,"b":0.431},{"a":0.431,"b":0.454},{"a":0.454,"b":0.477},{"a":0.477,"b":0.5},{"a":0.5,"b":0.524},{"a":0.524,"b":0.547},{"a":0.547,"b":0.57},{"a":0.57,"b":0.593},{"a":0.593,"b":0.617},{"a":0.617,"b":0.64},{"a":0.64,"b":0.663},{"a":0.663,"b":0.686},{"a":0.686,"b":0.71},{"a":0.71,"b":0.733},{"a":0.733,"b":0.756},{"a":0.756,"b":0.779},{"a":0.779,"b":0.803},{"a":0.803,"b":0.826},{"a":0.826,"b":0.849},{"a":0.849,"b":0.872},{"a":0.872,"b":0.896},{"a":0.896,"b":0.919},{"a":0.919,"b":0.942}]
},
"vconcat":[
{"vconcat":[
{"hconcat":[
{"width":528,"height":416,"title":{"text":"Real velocity field (2 day)","offset":2},"data":{"name":"fa"},"resolve":{"axis":{"x":"independent","y":"independent"}},"layer":[
{"mark":{"type":"point","shape":"M0,0L0,-2L-0.14,-1.55L0.14,-1.55L0,-2","filled":true,"fill":"#222","stroke":"#222","strokeWidth":0.7,"opacity":1},"encoding":{"x":{"field":"x","type":"quantitative","scale":{"domain":[0,25],"nice":false},"axis":{"values":[0,5,10,15,20,25]}},"y":{"field":"y","type":"quantitative","scale":{"domain":[0,18],"nice":false},"axis":{"values":[0,2,4,6,8,10,12,14,16,18],"minExtent":24,"maxExtent":24,"labelPadding":6}},"angle":{"field":"a","type":"quantitative","scale":null},"size":{"field":"l","type":"quantitative","scale":{"type":"pow","exponent":2,"domain":[0,30],"range":[0,778]},"legend":null}}},
{"mark":{"type":"point","opacity":0},"encoding":{"x":{"field":"x","type":"quantitative","axis":{"orient":"top","labels":false,"values":[0,5,10,15,20,25]}},"y":{"field":"y","type":"quantitative","axis":{"orient":"right","labels":false,"values":[0,2,4,6,8,10,12,14,16,18]}}}}
]},
{"vconcat":[
{"width":529,"height":401,"title":{"text":"Tracer distribution under real velocity in 3 days","dx":-13},"data":{"name":"pa"},"resolve":{"axis":{"x":"independent","y":"independent"}},"layer":[
{"mark":{"type":"line","interpolate":"linear-closed","stroke":"#222","strokeWidth":0.5},"encoding":{"x":{"field":"x","type":"quantitative","scale":{"domain":[1,21],"nice":false},"axis":{"values":[2,4,6,8,10,12,14,16,18,20]}},"y":{"field":"y","type":"quantitative","scale":{"domain":[1,17],"nice":false},"axis":{"values":[2,4,6,8,10,12,14,16]}},"fill":{"field":"k","type":"ordinal","legend":null,"scale":{"domain":[0,1,2,3,4,5,6,7,8,9,10,11,12,13,14,15,16,17,18],"range":["#ff0000","#ff5000","#ffa000","#ffee00","#c4ff00","#7dff00","#33ff00","#00ff22","#00ff66","#00ffaa","#00f4ff","#00aaff","#0060ff","#0018ff","#5500ff","#a000ff","#ff00e8","#ff00a0","#ff0050"]}},"order":{"value":null}}},
{"mark":{"type":"point","opacity":0},"encoding":{"x":{"field":"x","type":"quantitative","axis":{"orient":"top","labels":false,"values":[2,4,6,8,10,12,14,16,18,20]}},"y":{"field":"y","type":"quantitative","axis":{"orient":"right","labels":false,"values":[2,4,6,8,10,12,14,16]}}}}
]},
{"width":529,"height":33,"data":{"name":"c1"},"mark":{"type":"rect","clip":true},"encoding":{"x":{"field":"a","type":"quantitative","scale":{"domain":[0.106,0.993],"nice":false},"axis":{"values":[0.2,0.3,0.4,0.5,0.6,0.7,0.8,0.9],"format":".1f","zindex":1,"tickSize":-3,"labelPadding":9}},"x2":{"field":"b"},"fill":{"field":"a","type":"quantitative","legend":null,"scale":{"domain":[0.106,0.26,0.41,0.56,0.71,0.85,0.993],"range":["#ff0000","#ffff00","#00ff00","#00ffff","#0000ff","#ff00ff","#ff0000"]}}}}
],"spacing":1}
],"spacing":4},
{"hconcat":[
{"width":528,"height":416,"title":{"text":"Model velocity field  (2 day)","offset":2},"data":{"name":"fb"},"resolve":{"axis":{"x":"independent","y":"independent"}},"layer":[
{"mark":{"type":"point","shape":"M0,0L0,-2L-0.14,-1.55L0.14,-1.55L0,-2","filled":true,"fill":"#222","stroke":"#222","strokeWidth":0.7,"opacity":1},"encoding":{"x":{"field":"x","type":"quantitative","scale":{"domain":[0,25],"nice":false},"axis":{"values":[0,5,10,15,20,25]}},"y":{"field":"y","type":"quantitative","scale":{"domain":[0,18],"nice":false},"axis":{"values":[0,2,4,6,8,10,12,14,16,18],"minExtent":24,"maxExtent":24,"labelPadding":6}},"angle":{"field":"a","type":"quantitative","scale":null},"size":{"field":"l","type":"quantitative","scale":{"type":"pow","exponent":2,"domain":[0,30],"range":[0,778]},"legend":null}}},
{"mark":{"type":"point","opacity":0},"encoding":{"x":{"field":"x","type":"quantitative","axis":{"orient":"top","labels":false,"values":[0,5,10,15,20,25]}},"y":{"field":"y","type":"quantitative","axis":{"orient":"right","labels":false,"values":[0,2,4,6,8,10,12,14,16,18]}}}}
]},
{"vconcat":[
{"width":528,"height":401,"title":{"text":"Tracer distribution under model velocity in 3 days","dx":2},"data":{"name":"pb"},"resolve":{"axis":{"x":"independent","y":"independent"}},"layer":[
{"mark":{"type":"line","interpolate":"linear-closed","stroke":"#222","strokeWidth":0.5},"encoding":{"x":{"field":"x","type":"quantitative","scale":{"domain":[1,21],"nice":false},"axis":{"values":[2,4,6,8,10,12,14,16,18,20]}},"y":{"field":"y","type":"quantitative","scale":{"domain":[1,17],"nice":false},"axis":{"values":[2,4,6,8,10,12,14,16]}},"fill":{"field":"k","type":"ordinal","legend":null,"scale":{"domain":[0,1,2,3,4,5,6,7,8,9,10,11,12,13,14,15,16,17,18],"range":["#ff0000","#ff5000","#ffa000","#ffee00","#c4ff00","#7dff00","#33ff00","#00ff22","#00ff66","#00ffaa","#00f4ff","#00aaff","#0060ff","#0018ff","#5500ff","#a000ff","#ff00e8","#ff00a0","#ff0050"]}},"order":{"value":null}}},
{"mark":{"type":"point","opacity":0},"encoding":{"x":{"field":"x","type":"quantitative","axis":{"orient":"top","labels":false,"values":[2,4,6,8,10,12,14,16,18,20]}},"y":{"field":"y","type":"quantitative","axis":{"orient":"right","labels":false,"values":[2,4,6,8,10,12,14,16]}}}}
]},
{"width":528,"height":33,"data":{"name":"c2"},"mark":{"type":"rect","clip":true},"encoding":{"x":{"field":"a","type":"quantitative","scale":{"domain":[0.105,0.942],"nice":false},"axis":{"values":[0.2,0.3,0.4,0.5,0.6,0.7,0.8,0.9],"format":".1f","zindex":1,"tickSize":-3,"labelPadding":9}},"x2":{"field":"b"},"fill":{"field":"a","type":"quantitative","legend":null,"scale":{"domain":[0.105,0.25,0.392,0.534,0.674,0.808,0.942],"range":["#ff0000","#ffff00","#00ff00","#00ffff","#0000ff","#ff00ff","#ff0000"]}}}}
],"spacing":1}
],"spacing":2}
],"spacing":4},
{"hconcat":[
{"width":528,"height":416,"title":{"text":"Estimated velocity field after 2 days of observations (fuzzy)","offset":2},"data":{"name":"fc"},"resolve":{"axis":{"x":"independent","y":"independent"}},"layer":[
{"mark":{"type":"point","shape":"M0,0L0,-2L-0.14,-1.55L0.14,-1.55L0,-2","filled":true,"fill":"#222","stroke":"#222","strokeWidth":0.7,"opacity":1},"encoding":{"x":{"field":"x","type":"quantitative","scale":{"domain":[0,25],"nice":false},"axis":{"values":[0,5,10,15,20,25]}},"y":{"field":"y","type":"quantitative","scale":{"domain":[0,18],"nice":false},"axis":{"values":[0,2,4,6,8,10,12,14,16,18],"minExtent":24,"maxExtent":24,"labelPadding":6}},"angle":{"field":"a","type":"quantitative","scale":null},"size":{"field":"l","type":"quantitative","scale":{"type":"pow","exponent":2,"domain":[0,30],"range":[0,778]},"legend":null}}},
{"mark":{"type":"point","opacity":0},"encoding":{"x":{"field":"x","type":"quantitative","axis":{"orient":"top","labels":false,"values":[0,5,10,15,20,25]}},"y":{"field":"y","type":"quantitative","axis":{"orient":"right","labels":false,"values":[0,2,4,6,8,10,12,14,16,18]}}}}
]},
{"vconcat":[
{"width":529,"height":401,"title":{"text":"Tracer distribution under \"fuzzy\" velocity in 3 days","dx":2},"data":{"name":"pc"},"resolve":{"axis":{"x":"independent","y":"independent"}},"layer":[
{"mark":{"type":"line","interpolate":"linear-closed","stroke":"#222","strokeWidth":0.5},"encoding":{"x":{"field":"x","type":"quantitative","scale":{"domain":[1,21],"nice":false},"axis":{"values":[2,4,6,8,10,12,14,16,18,20]}},"y":{"field":"y","type":"quantitative","scale":{"domain":[1,17],"nice":false},"axis":{"values":[2,4,6,8,10,12,14,16]}},"fill":{"field":"k","type":"ordinal","legend":null,"scale":{"domain":[0,1,2,3,4,5,6,7,8,9,10,11,12,13,14,15,16,17,18],"range":["#ff0000","#ff5000","#ffa000","#ffee00","#c4ff00","#7dff00","#33ff00","#00ff22","#00ff66","#00ffaa","#00f4ff","#00aaff","#0060ff","#0018ff","#5500ff","#a000ff","#ff00e8","#ff00a0","#ff0050"]}},"order":{"value":null}}},
{"mark":{"type":"point","opacity":0},"encoding":{"x":{"field":"x","type":"quantitative","axis":{"orient":"top","labels":false,"values":[2,4,6,8,10,12,14,16,18,20]}},"y":{"field":"y","type":"quantitative","axis":{"orient":"right","labels":false,"values":[2,4,6,8,10,12,14,16]}}}}
]},
{"width":529,"height":33,"data":{"name":"c1"},"mark":{"type":"rect","clip":true},"encoding":{"x":{"field":"a","type":"quantitative","scale":{"domain":[0.106,0.997],"nice":false},"axis":{"values":[0.2,0.3,0.4,0.5,0.6,0.7,0.8,0.9],"format":".1f","zindex":1,"tickSize":-3,"labelPadding":9}},"x2":{"field":"b"},"fill":{"field":"a","type":"quantitative","legend":null,"scale":{"domain":[0.106,0.26,0.41,0.56,0.71,0.85,0.997],"range":["#ff0000","#ffff00","#00ff00","#00ffff","#0000ff","#ff00ff","#ff0000"]}}}}
],"spacing":1}
],"spacing":-2}
],"spacing":8
}
